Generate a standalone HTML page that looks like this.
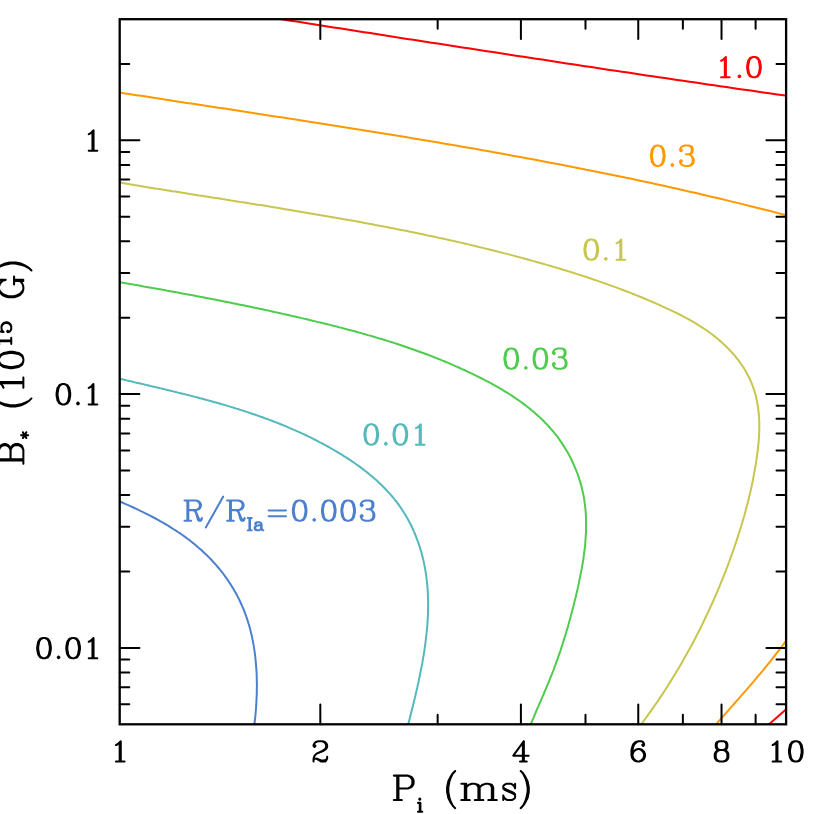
<!DOCTYPE html>
<html><head><meta charset="utf-8"><title>plot</title>
<style>
html,body{margin:0;padding:0;background:#fff;}
body{width:830px;height:814px;overflow:hidden;}
svg{display:block;}
</style></head><body>
<svg width="830" height="814" viewBox="0 0 830 814">
<rect width="830" height="814" fill="#fff"/>
<defs><clipPath id="c"><rect x="119.7" y="19.2" width="666.4" height="705.1"/></clipPath></defs>
<g clip-path="url(#c)" fill="none" stroke-width="2.00" stroke-linejoin="round" stroke-linecap="round">
<path d="M266.0 16.9 L272.1 17.8 L278.3 18.8 L284.4 19.7 L290.5 20.7 L296.7 21.6 L302.8 22.6 L308.9 23.6 L315.1 24.5 L321.2 25.5 L327.3 26.4 L333.5 27.4 L339.6 28.3 L345.7 29.3 L351.9 30.3 L358.0 31.2 L364.1 32.2 L370.3 33.1 L376.4 34.1 L382.5 35.0 L388.7 36.0 L394.8 36.9 L400.9 37.9 L407.1 38.9 L413.2 39.8 L419.3 40.8 L425.5 41.7 L431.6 42.7 L437.7 43.6 L443.9 44.6 L450.0 45.5 L456.2 46.5 L462.3 47.4 L468.4 48.3 L474.6 49.3 L480.7 50.2 L486.8 51.2 L493.0 52.1 L499.1 53.1 L505.2 54.0 L511.4 55.0 L517.5 55.9 L523.6 56.8 L529.8 57.8 L535.9 58.7 L542.1 59.6 L548.2 60.6 L554.3 61.5 L560.5 62.4 L566.6 63.4 L572.7 64.3 L578.9 65.2 L585.0 66.2 L591.2 67.1 L597.3 68.0 L603.4 68.9 L609.6 69.9 L615.7 70.8 L621.9 71.7 L628.0 72.6 L634.1 73.5 L640.3 74.4 L646.4 75.4 L652.6 76.3 L658.7 77.2 L664.8 78.1 L671.0 79.0 L677.1 79.9 L683.3 80.8 L689.4 81.7 L695.5 82.6 L701.7 83.5 L707.8 84.4 L714.0 85.3 L720.1 86.2 L726.3 87.1 L732.4 88.0 L738.5 88.9 L744.7 89.8 L750.8 90.6 L757.0 91.5 L763.1 92.4 L769.3 93.3 L775.4 94.2 L781.6 95.0 L787.7 95.9 L793.9 96.8 L800.0 97.7" stroke="#ff0000"/>
<path d="M763.9 728.8 L764.6 728.2 L765.3 727.5 L766.1 726.9 L766.8 726.3 L767.5 725.6 L768.2 725.0 L768.9 724.4 L769.7 723.7 L770.4 723.1 L771.1 722.5 L771.8 721.8 L772.5 721.2 L773.3 720.6 L774.0 719.9 L774.7 719.3 L775.4 718.7 L776.1 718.0 L776.9 717.4 L777.6 716.8 L778.3 716.1 L779.0 715.5 L779.7 714.9 L780.5 714.2 L781.2 713.6 L781.9 713.0 L782.6 712.3 L783.4 711.7 L784.1 711.1 L784.8 710.4 L785.5 709.8 L786.2 709.2 L787.0 708.5 L787.7 707.9 L788.4 707.3 L789.1 706.6 L789.8 706.0 L790.6 705.4 L791.3 704.7 L792.0 704.1" stroke="#ff0000"/>
<path d="M105.0 90.3 L111.3 91.3 L117.6 92.2 L123.9 93.2 L130.2 94.2 L136.5 95.2 L142.8 96.1 L149.1 97.1 L155.3 98.1 L161.6 99.0 L167.9 100.0 L174.2 101.0 L180.5 101.9 L186.8 102.9 L193.1 103.8 L199.4 104.8 L205.7 105.8 L212.0 106.7 L218.3 107.7 L224.6 108.6 L230.9 109.6 L237.2 110.6 L243.5 111.5 L249.8 112.5 L256.1 113.5 L262.4 114.4 L268.7 115.4 L275.0 116.4 L281.3 117.3 L287.6 118.3 L293.9 119.3 L300.2 120.3 L306.5 121.2 L312.8 122.2 L319.1 123.2 L325.4 124.2 L331.7 125.2 L338.0 126.2 L344.3 127.2 L350.6 128.2 L356.9 129.2 L363.2 130.2 L369.4 131.2 L375.7 132.2 L382.0 133.2 L388.3 134.2 L394.6 135.3 L400.9 136.3 L407.2 137.3 L413.5 138.4 L419.8 139.4 L426.0 140.5 L432.3 141.5 L438.6 142.6 L444.9 143.7 L451.2 144.8 L457.4 145.8 L463.7 146.9 L470.0 148.0 L476.3 149.1 L482.5 150.2 L488.8 151.3 L495.1 152.5 L501.4 153.6 L507.6 154.7 L513.9 155.9 L520.2 157.0 L526.4 158.2 L532.7 159.3 L539.0 160.5 L545.2 161.7 L551.5 162.9 L557.7 164.1 L564.0 165.3 L570.2 166.5 L576.5 167.7 L582.7 168.9 L589.0 170.2 L595.2 171.4 L601.5 172.7 L607.7 174.0 L613.9 175.2 L620.2 176.5 L626.4 177.8 L632.6 179.1 L638.9 180.5 L645.1 181.8 L651.3 183.1 L657.6 184.5 L663.8 185.8 L670.0 187.2 L676.2 188.6 L682.4 190.0 L688.6 191.4 L694.8 192.8 L701.1 194.3 L707.3 195.7 L713.5 197.2 L719.7 198.6 L725.9 200.1 L732.1 201.6 L738.2 203.1 L744.4 204.6 L750.6 206.2 L756.8 207.7 L763.0 209.3 L769.2 210.8 L775.3 212.4 L781.5 214.0 L787.7 215.6 L793.8 217.3 L800.0 218.9" stroke="#ff9900"/>
<path d="M712.0 728.9 L713.8 726.9 L715.5 724.9 L717.3 722.9 L719.0 720.9 L720.8 718.9 L722.6 716.9 L724.3 714.9 L726.1 712.9 L727.9 710.9 L729.6 708.9 L731.4 706.9 L733.2 704.9 L734.9 702.9 L736.7 700.9 L738.5 698.9 L740.2 696.9 L742.0 694.9 L743.7 692.9 L745.5 690.9 L747.2 688.9 L749.0 686.8 L750.7 684.8 L752.4 682.8 L754.2 680.8 L755.9 678.7 L757.6 676.7 L759.3 674.7 L761.1 672.6 L762.8 670.6 L764.5 668.5 L766.1 666.4 L767.8 664.4 L769.5 662.3 L771.2 660.2 L772.8 658.1 L774.5 656.0 L776.1 653.9 L777.8 651.8 L779.4 649.7 L781.0 647.6 L782.6 645.5 L784.2 643.3 L785.8 641.2 L787.3 639.0 L788.9 636.9 L790.5 634.7 L792.0 632.5" stroke="#ff9900"/>
<path d="M105.0 180.2 L107.9 180.7 L110.9 181.2 L113.8 181.7 L116.7 182.2 L119.6 182.6 L122.6 183.1 L125.5 183.6 L128.4 184.1 L131.3 184.6 L134.3 185.1 L137.2 185.5 L140.1 186.0 L143.1 186.5 L146.0 187.0 L148.9 187.4 L151.9 187.9 L154.8 188.4 L157.7 188.8 L160.7 189.3 L163.6 189.8 L166.5 190.2 L169.5 190.7 L172.4 191.2 L175.4 191.6 L178.3 192.1 L181.2 192.6 L184.2 193.0 L187.1 193.5 L190.0 194.0 L193.0 194.4 L195.9 194.9 L198.9 195.4 L201.8 195.8 L204.7 196.3 L207.7 196.7 L210.6 197.2 L213.6 197.7 L216.5 198.1 L219.4 198.6 L222.4 199.1 L225.3 199.5 L228.3 200.0 L231.2 200.5 L234.1 200.9 L237.1 201.4 L240.0 201.9 L243.0 202.3 L245.9 202.8 L248.9 203.3 L251.8 203.7 L254.7 204.2 L257.7 204.7 L260.6 205.1 L263.6 205.6 L266.5 206.1 L269.4 206.6 L272.4 207.0 L275.3 207.5 L278.3 208.0 L281.2 208.5 L284.1 209.0 L287.1 209.4 L290.0 209.9 L293.0 210.4 L295.9 210.9 L298.8 211.4 L301.8 211.9 L304.7 212.4 L307.7 212.9 L310.6 213.4 L313.5 213.9 L316.5 214.4 L319.4 214.9 L322.3 215.4 L325.3 215.9 L328.2 216.4 L331.1 216.9 L334.1 217.4 L337.0 217.9 L339.9 218.4 L342.9 219.0 L345.8 219.5 L348.7 220.0 L351.7 220.5 L354.6 221.1 L357.5 221.6 L360.5 222.1 L363.4 222.7 L366.3 223.2 L369.2 223.8 L372.2 224.3 L375.1 224.9 L378.0 225.4 L380.9 226.0 L383.9 226.5 L386.8 227.1 L389.7 227.7 L392.6 228.2 L395.6 228.8 L398.5 229.4 L401.4 230.0 L404.3 230.6 L407.2 231.1 L410.1 231.7 L413.1 232.3 L416.0 232.9 L418.9 233.5 L421.8 234.1 L424.7 234.7 L427.6 235.4 L430.5 236.0 L433.4 236.6 L436.3 237.2 L439.3 237.9 L442.2 238.5 L445.1 239.1 L448.0 239.8 L450.9 240.4 L453.8 241.1 L456.7 241.7 L459.6 242.4 L462.5 243.1 L465.4 243.7 L468.3 244.4 L471.1 245.1 L474.0 245.8 L476.9 246.5 L479.8 247.2 L482.7 247.9 L485.6 248.6 L488.5 249.3 L491.4 250.0 L494.3 250.7 L497.1 251.4 L500.0 252.2 L502.9 252.9 L505.8 253.6 L508.6 254.4 L511.5 255.1 L514.4 255.9 L517.3 256.7 L520.1 257.4 L523.0 258.2 L525.9 259.0 L528.7 259.8 L531.6 260.6 L534.5 261.4 L537.3 262.2 L540.2 263.0 L543.0 263.8 L545.9 264.6 L548.8 265.4 L551.6 266.3 L554.5 267.1 L557.3 268.0 L560.1 268.8 L563.0 269.7 L565.8 270.5 L568.7 271.4 L571.5 272.3 L574.4 273.2 L577.2 274.1 L580.0 275.0 L582.8 275.9 L585.7 276.8 L588.5 277.8 L591.3 278.7 L594.1 279.7 L596.9 280.6 L599.8 281.6 L602.6 282.6 L605.4 283.6 L608.2 284.6 L611.0 285.6 L613.8 286.6 L616.6 287.6 L619.3 288.6 L622.1 289.7 L624.9 290.8 L627.7 291.8 L630.5 292.9 L633.2 294.0 L636.0 295.1 L638.8 296.2 L641.5 297.3 L644.3 298.5 L647.0 299.6 L649.8 300.8 L652.5 302.0 L655.2 303.2 L658.0 304.4 L660.7 305.6 L663.4 306.8 L666.1 308.1 L668.8 309.3 L671.5 310.6 L674.2 311.9 L676.9 313.2 L679.6 314.5 L682.2 315.9 L684.9 317.3 L687.5 318.7 L690.1 320.1 L692.7 321.6 L695.3 323.1 L697.8 324.7 L700.3 326.3 L702.8 327.9 L705.3 329.5 L707.8 331.2 L710.2 333.0 L712.6 334.8 L714.9 336.6 L717.3 338.5 L719.6 340.4 L721.8 342.4 L724.0 344.5 L726.2 346.5 L728.3 348.6 L730.4 350.8 L732.4 353.0 L734.3 355.2 L736.2 357.5 L738.1 359.9 L739.8 362.2 L741.5 364.7 L743.2 367.1 L744.7 369.6 L746.2 372.2 L747.6 374.7 L749.0 377.3 L750.2 380.0 L751.4 382.7 L752.5 385.4 L753.5 388.2 L754.4 391.0 L755.2 393.8 L756.0 396.6 L756.6 399.5 L757.2 402.4 L757.7 405.3 L758.2 408.2 L758.5 411.1 L758.8 414.0 L759.0 417.0 L759.2 419.9 L759.3 422.9 L759.3 425.9 L759.3 428.9 L759.2 431.9 L759.1 434.9 L758.9 437.9 L758.7 440.9 L758.4 443.9 L758.1 446.9 L757.8 449.9 L757.4 452.9 L757.0 455.9 L756.6 458.8 L756.1 461.8 L755.7 464.8 L755.2 467.8 L754.6 470.7 L754.1 473.7 L753.6 476.6 L753.0 479.5 L752.4 482.5 L751.8 485.4 L751.1 488.3 L750.5 491.2 L749.8 494.1 L749.1 497.0 L748.4 499.9 L747.7 502.7 L747.0 505.6 L746.2 508.5 L745.4 511.3 L744.7 514.2 L743.9 517.0 L743.0 519.9 L742.2 522.7 L741.4 525.5 L740.5 528.4 L739.6 531.2 L738.7 534.0 L737.8 536.8 L736.9 539.6 L736.0 542.4 L735.0 545.2 L734.1 548.0 L733.1 550.8 L732.1 553.6 L731.1 556.4 L730.1 559.2 L729.1 562.0 L728.0 564.8 L727.0 567.6 L725.9 570.3 L724.8 573.1 L723.8 575.9 L722.7 578.6 L721.5 581.4 L720.4 584.1 L719.3 586.9 L718.1 589.6 L717.0 592.4 L715.8 595.1 L714.6 597.8 L713.4 600.6 L712.2 603.3 L710.9 606.0 L709.7 608.7 L708.5 611.4 L707.2 614.1 L705.9 616.8 L704.6 619.5 L703.3 622.2 L702.0 624.9 L700.7 627.5 L699.4 630.2 L698.0 632.9 L696.6 635.5 L695.3 638.2 L693.9 640.8 L692.5 643.5 L691.1 646.1 L689.7 648.7 L688.2 651.3 L686.8 653.9 L685.3 656.5 L683.8 659.1 L682.4 661.7 L680.9 664.3 L679.4 666.9 L677.9 669.4 L676.3 672.0 L674.8 674.5 L673.2 677.1 L671.7 679.6 L670.1 682.1 L668.5 684.7 L666.9 687.2 L665.3 689.7 L663.7 692.2 L662.1 694.7 L660.4 697.1 L658.8 699.6 L657.1 702.1 L655.4 704.5 L653.7 707.0 L652.0 709.4 L650.3 711.8 L648.6 714.2 L646.9 716.6 L645.1 719.0 L643.4 721.4 L641.6 723.8 L639.8 726.1 L638.0 728.5" stroke="#c7c64e"/>
<path d="M105.0 279.6 L108.0 280.1 L110.9 280.6 L113.9 281.1 L116.8 281.7 L119.8 282.2 L122.8 282.7 L125.7 283.2 L128.7 283.7 L131.7 284.3 L134.6 284.8 L137.6 285.3 L140.6 285.8 L143.6 286.4 L146.5 286.9 L149.5 287.4 L152.5 288.0 L155.4 288.5 L158.4 289.0 L161.4 289.6 L164.4 290.1 L167.3 290.7 L170.3 291.2 L173.3 291.7 L176.2 292.3 L179.2 292.8 L182.2 293.4 L185.2 294.0 L188.1 294.5 L191.1 295.1 L194.1 295.6 L197.1 296.2 L200.0 296.8 L203.0 297.3 L206.0 297.9 L209.0 298.5 L211.9 299.1 L214.9 299.6 L217.9 300.2 L220.9 300.8 L223.8 301.4 L226.8 302.0 L229.8 302.6 L232.7 303.2 L235.7 303.8 L238.7 304.4 L241.6 305.0 L244.6 305.6 L247.6 306.2 L250.5 306.8 L253.5 307.5 L256.5 308.1 L259.4 308.7 L262.4 309.3 L265.3 310.0 L268.3 310.6 L271.3 311.3 L274.2 311.9 L277.2 312.6 L280.1 313.2 L283.1 313.9 L286.0 314.5 L289.0 315.2 L291.9 315.9 L294.9 316.5 L297.8 317.2 L300.8 317.9 L303.7 318.6 L306.7 319.3 L309.6 320.0 L312.5 320.7 L315.5 321.4 L318.4 322.1 L321.3 322.8 L324.3 323.5 L327.2 324.2 L330.1 324.9 L333.1 325.7 L336.0 326.4 L338.9 327.2 L341.8 327.9 L344.7 328.7 L347.6 329.5 L350.6 330.2 L353.5 331.0 L356.4 331.8 L359.3 332.6 L362.2 333.4 L365.1 334.2 L368.0 335.1 L370.9 335.9 L373.7 336.7 L376.6 337.6 L379.5 338.5 L382.4 339.3 L385.3 340.2 L388.1 341.1 L391.0 342.0 L393.9 342.9 L396.7 343.8 L399.6 344.8 L402.5 345.7 L405.3 346.7 L408.2 347.7 L411.0 348.7 L413.8 349.7 L416.7 350.7 L419.5 351.7 L422.3 352.7 L425.2 353.8 L428.0 354.8 L430.8 355.9 L433.6 357.0 L436.4 358.1 L439.2 359.2 L442.0 360.4 L444.8 361.5 L447.6 362.7 L450.4 363.9 L453.2 365.1 L456.0 366.3 L458.7 367.5 L461.5 368.8 L464.3 370.0 L467.0 371.3 L469.8 372.6 L472.5 373.9 L475.3 375.3 L478.0 376.6 L480.7 378.0 L483.5 379.4 L486.2 380.8 L488.9 382.2 L491.6 383.7 L494.2 385.2 L496.9 386.7 L499.6 388.2 L502.2 389.7 L504.8 391.3 L507.4 392.9 L510.0 394.5 L512.5 396.2 L515.1 397.9 L517.6 399.6 L520.0 401.3 L522.5 403.1 L524.9 404.9 L527.3 406.7 L529.7 408.6 L532.0 410.5 L534.3 412.4 L536.5 414.4 L538.8 416.4 L541.0 418.5 L543.1 420.5 L545.2 422.7 L547.3 424.8 L549.3 427.0 L551.3 429.3 L553.2 431.5 L555.1 433.9 L557.0 436.2 L558.8 438.6 L560.5 441.1 L562.2 443.6 L563.8 446.1 L565.4 448.7 L567.0 451.3 L568.5 453.9 L569.9 456.6 L571.3 459.3 L572.6 462.0 L573.8 464.8 L575.0 467.6 L576.2 470.4 L577.3 473.2 L578.3 476.0 L579.2 478.9 L580.1 481.8 L581.0 484.7 L581.7 487.6 L582.4 490.5 L583.1 493.5 L583.7 496.4 L584.2 499.3 L584.6 502.3 L585.0 505.3 L585.3 508.2 L585.6 511.2 L585.8 514.2 L586.0 517.2 L586.1 520.2 L586.1 523.2 L586.1 526.2 L586.1 529.2 L586.0 532.2 L585.8 535.2 L585.6 538.3 L585.4 541.3 L585.2 544.3 L584.9 547.3 L584.5 550.3 L584.1 553.4 L583.7 556.4 L583.3 559.4 L582.8 562.4 L582.3 565.4 L581.8 568.4 L581.2 571.4 L580.6 574.4 L580.0 577.4 L579.4 580.4 L578.8 583.4 L578.1 586.4 L577.5 589.4 L576.8 592.3 L576.1 595.3 L575.4 598.3 L574.6 601.2 L573.9 604.2 L573.2 607.1 L572.4 610.0 L571.6 612.9 L570.9 615.8 L570.1 618.7 L569.3 621.6 L568.5 624.5 L567.7 627.4 L566.8 630.3 L566.0 633.1 L565.1 636.0 L564.2 638.9 L563.3 641.7 L562.4 644.6 L561.5 647.4 L560.6 650.3 L559.6 653.1 L558.6 655.9 L557.6 658.8 L556.6 661.6 L555.6 664.4 L554.5 667.2 L553.5 670.0 L552.4 672.8 L551.3 675.7 L550.1 678.5 L549.0 681.3 L547.8 684.1 L546.7 686.9 L545.5 689.7 L544.3 692.5 L543.1 695.3 L541.9 698.1 L540.7 700.8 L539.5 703.6 L538.3 706.4 L537.1 709.2 L535.9 712.0 L534.7 714.8 L533.6 717.6 L532.4 720.3 L531.2 723.1 L530.0 725.9 L528.9 728.7" stroke="#4dcc4d"/>
<path d="M105.0 375.2 L107.4 375.8 L109.8 376.4 L112.3 376.9 L114.7 377.5 L117.1 378.1 L119.5 378.7 L121.9 379.2 L124.4 379.8 L126.8 380.4 L129.2 380.9 L131.7 381.5 L134.1 382.1 L136.5 382.7 L139.0 383.2 L141.4 383.8 L143.9 384.4 L146.3 385.0 L148.7 385.5 L151.2 386.1 L153.6 386.7 L156.1 387.3 L158.5 387.8 L160.9 388.4 L163.4 389.0 L165.8 389.6 L168.3 390.2 L170.7 390.8 L173.2 391.4 L175.6 392.0 L178.1 392.6 L180.5 393.2 L182.9 393.8 L185.4 394.4 L187.8 395.0 L190.3 395.6 L192.7 396.3 L195.1 396.9 L197.6 397.5 L200.0 398.2 L202.4 398.8 L204.9 399.5 L207.3 400.1 L209.7 400.8 L212.2 401.5 L214.6 402.2 L217.0 402.8 L219.4 403.5 L221.9 404.2 L224.3 404.9 L226.7 405.6 L229.1 406.4 L231.5 407.1 L233.9 407.8 L236.3 408.6 L238.7 409.3 L241.1 410.1 L243.5 410.8 L245.9 411.6 L248.3 412.4 L250.7 413.2 L253.0 414.0 L255.4 414.8 L257.8 415.6 L260.1 416.5 L262.5 417.3 L264.9 418.2 L267.2 419.0 L269.6 419.9 L271.9 420.8 L274.3 421.7 L276.6 422.6 L278.9 423.5 L281.3 424.5 L283.6 425.4 L285.9 426.3 L288.2 427.3 L290.5 428.3 L292.8 429.3 L295.1 430.3 L297.4 431.3 L299.7 432.3 L301.9 433.4 L304.2 434.4 L306.5 435.5 L308.7 436.6 L311.0 437.7 L313.2 438.8 L315.5 440.0 L317.7 441.1 L319.9 442.3 L322.2 443.4 L324.4 444.6 L326.6 445.8 L328.8 447.0 L331.0 448.3 L333.1 449.5 L335.3 450.8 L337.5 452.1 L339.6 453.4 L341.8 454.7 L343.9 456.1 L346.1 457.4 L348.2 458.8 L350.3 460.2 L352.4 461.6 L354.5 463.0 L356.5 464.5 L358.6 465.9 L360.6 467.4 L362.6 468.9 L364.6 470.5 L366.6 472.0 L368.6 473.6 L370.5 475.2 L372.4 476.8 L374.3 478.4 L376.2 480.1 L378.0 481.8 L379.9 483.5 L381.7 485.2 L383.4 487.0 L385.2 488.8 L386.9 490.6 L388.6 492.4 L390.2 494.2 L391.9 496.1 L393.5 498.0 L395.0 500.0 L396.6 501.9 L398.1 503.9 L399.5 505.9 L400.9 508.0 L402.3 510.1 L403.7 512.2 L405.0 514.3 L406.3 516.4 L407.5 518.6 L408.7 520.8 L409.9 523.0 L411.0 525.3 L412.1 527.5 L413.2 529.8 L414.2 532.1 L415.2 534.5 L416.1 536.8 L417.0 539.1 L417.9 541.5 L418.7 543.9 L419.5 546.2 L420.3 548.6 L421.0 551.0 L421.7 553.5 L422.3 555.9 L422.9 558.3 L423.5 560.7 L424.0 563.2 L424.5 565.6 L425.0 568.0 L425.4 570.5 L425.8 573.0 L426.2 575.4 L426.5 577.9 L426.8 580.4 L427.0 582.8 L427.3 585.3 L427.5 587.8 L427.7 590.3 L427.8 592.8 L427.9 595.3 L428.0 597.8 L428.1 600.3 L428.1 602.8 L428.1 605.3 L428.1 607.8 L428.0 610.3 L428.0 612.8 L427.9 615.3 L427.8 617.8 L427.6 620.4 L427.5 622.9 L427.3 625.4 L427.1 627.9 L426.8 630.4 L426.6 632.9 L426.3 635.5 L426.0 638.0 L425.7 640.5 L425.4 643.0 L425.1 645.5 L424.7 648.0 L424.4 650.6 L424.0 653.1 L423.6 655.6 L423.1 658.1 L422.7 660.6 L422.3 663.1 L421.8 665.6 L421.3 668.1 L420.8 670.6 L420.3 673.1 L419.8 675.5 L419.3 678.0 L418.8 680.5 L418.3 683.0 L417.7 685.4 L417.2 687.9 L416.6 690.4 L416.0 692.8 L415.5 695.3 L414.9 697.7 L414.3 700.1 L413.7 702.6 L413.1 705.0 L412.5 707.4 L411.9 709.8 L411.3 712.2 L410.7 714.6 L410.1 717.0 L409.5 719.4 L408.9 721.8 L408.3 724.1 L407.7 726.5 L407.1 728.9" stroke="#55b8bb"/>
<path d="M108.0 496.5 L110.0 497.4 L112.0 498.2 L114.0 499.0 L116.1 499.9 L118.1 500.7 L120.1 501.6 L122.1 502.5 L124.2 503.4 L126.2 504.3 L128.2 505.2 L130.3 506.1 L132.3 507.0 L134.3 508.0 L136.4 508.9 L138.4 509.9 L140.4 510.8 L142.5 511.8 L144.5 512.8 L146.5 513.8 L148.5 514.9 L150.6 515.9 L152.6 517.0 L154.6 518.0 L156.6 519.1 L158.5 520.2 L160.5 521.3 L162.5 522.4 L164.5 523.6 L166.4 524.7 L168.4 525.9 L170.3 527.1 L172.2 528.3 L174.1 529.5 L176.0 530.7 L177.9 532.0 L179.8 533.2 L181.7 534.5 L183.5 535.8 L185.3 537.1 L187.2 538.5 L189.0 539.8 L190.8 541.2 L192.5 542.6 L194.3 544.0 L196.0 545.4 L197.7 546.9 L199.4 548.4 L201.1 549.8 L202.8 551.4 L204.4 552.9 L206.0 554.4 L207.6 556.0 L209.2 557.6 L210.8 559.2 L212.3 560.8 L213.8 562.5 L215.3 564.1 L216.8 565.8 L218.2 567.5 L219.6 569.2 L221.0 571.0 L222.4 572.7 L223.8 574.5 L225.1 576.3 L226.4 578.1 L227.7 579.9 L228.9 581.8 L230.1 583.6 L231.3 585.5 L232.5 587.4 L233.6 589.3 L234.7 591.2 L235.8 593.1 L236.9 595.1 L237.9 597.1 L238.9 599.0 L239.9 601.0 L240.8 603.0 L241.7 605.1 L242.6 607.1 L243.5 609.1 L244.3 611.2 L245.1 613.3 L245.9 615.4 L246.6 617.5 L247.3 619.6 L248.0 621.7 L248.6 623.8 L249.3 626.0 L249.9 628.1 L250.4 630.3 L251.0 632.4 L251.5 634.6 L252.0 636.8 L252.4 639.0 L252.9 641.2 L253.3 643.4 L253.7 645.6 L254.0 647.9 L254.4 650.1 L254.7 652.3 L255.0 654.6 L255.3 656.8 L255.5 659.1 L255.7 661.3 L255.9 663.6 L256.1 665.8 L256.3 668.1 L256.4 670.3 L256.6 672.6 L256.7 674.9 L256.7 677.1 L256.8 679.4 L256.8 681.7 L256.9 683.9 L256.9 686.2 L256.8 688.5 L256.8 690.7 L256.8 693.0 L256.7 695.2 L256.6 697.5 L256.5 699.7 L256.4 702.0 L256.3 704.2 L256.1 706.5 L256.0 708.7 L255.8 710.9 L255.6 713.1 L255.4 715.4 L255.2 717.6 L254.9 719.8 L254.7 722.0 L254.4 724.1 L254.2 726.3 L253.9 728.5" stroke="#4d80cc"/>
</g>
<path d="M320.31 724.30 v-19.70 M320.31 19.20 v19.70 M437.65 724.30 v-9.60 M437.65 19.20 v9.60 M520.91 724.30 v-19.70 M520.91 19.20 v19.70 M585.49 724.30 v-9.60 M585.49 19.20 v9.60 M638.26 724.30 v-19.70 M638.26 19.20 v19.70 M682.87 724.30 v-9.60 M682.87 19.20 v9.60 M721.52 724.30 v-19.70 M721.52 19.20 v19.70 M755.61 724.30 v-9.60 M755.61 19.20 v9.60 M119.70 704.20 h9.60 M786.10 704.20 h-9.60 M119.70 687.21 h9.60 M786.10 687.21 h-9.60 M119.70 672.49 h9.60 M786.10 672.49 h-9.60 M119.70 659.51 h9.60 M786.10 659.51 h-9.60 M119.70 647.90 h19.70 M786.10 647.90 h-19.70 M119.70 571.50 h9.60 M786.10 571.50 h-9.60 M119.70 526.80 h9.60 M786.10 526.80 h-9.60 M119.70 495.09 h9.60 M786.10 495.09 h-9.60 M119.70 470.50 h9.60 M786.10 470.50 h-9.60 M119.70 450.40 h9.60 M786.10 450.40 h-9.60 M119.70 433.41 h9.60 M786.10 433.41 h-9.60 M119.70 418.69 h9.60 M786.10 418.69 h-9.60 M119.70 405.71 h9.60 M786.10 405.71 h-9.60 M119.70 394.10 h19.70 M786.10 394.10 h-19.70 M119.70 317.69 h9.60 M786.10 317.69 h-9.60 M119.70 273.00 h9.60 M786.10 273.00 h-9.60 M119.70 241.29 h9.60 M786.10 241.29 h-9.60 M119.70 216.70 h9.60 M786.10 216.70 h-9.60 M119.70 196.60 h9.60 M786.10 196.60 h-9.60 M119.70 179.61 h9.60 M786.10 179.61 h-9.60 M119.70 164.89 h9.60 M786.10 164.89 h-9.60 M119.70 151.91 h9.60 M786.10 151.91 h-9.60 M119.70 140.29 h19.70 M786.10 140.29 h-19.70 M119.70 63.89 h9.60 M786.10 63.89 h-9.60" stroke="#000" stroke-width="2.00" fill="none" stroke-linecap="round"/>
<rect x="119.70" y="19.20" width="666.40" height="705.10" fill="none" stroke="#000" stroke-width="2.30"/>
<path transform="translate(109.98 761.50)" fill="#000" fill-rule="evenodd" d="M10.81 -21.31 10.06 -21.06 7.19 -18.19 5.56 -17.44 4.94 -16.69 5.06 -15.94 5.44 -15.56 5.81 -15.44 6.56 -15.56 8.06 -16.31 8.44 -16.69 8.69 -16.56 8.69 -1.06 8.56 -0.94 5.81 -0.94 5.44 -0.81 4.94 -0.19 4.94 0.31 5.44 0.94 5.81 1.06 14.69 1.06 15.06 0.94 15.56 0.31 15.56 -0.19 15.06 -0.81 14.69 -0.94 11.94 -0.94 11.81 -1.06 11.81 -20.31 11.56 -20.81 11.19 -21.19Z"/>
<path transform="translate(310.59 761.50)" fill="#000" fill-rule="evenodd" d="M4.81 -20.44 4.19 -20.06 3.19 -19.06 2.06 -16.94 2.06 -16.56 1.94 -16.44 1.94 -15.44 2.06 -15.06 3.19 -13.81 3.69 -13.56 4.31 -13.56 5.69 -14.69 5.81 -15.81 5.69 -16.19 4.56 -17.31 4.81 -17.81 5.69 -18.56 8.06 -19.31 11.44 -19.31 12.94 -18.56 13.81 -17.69 14.56 -16.19 14.56 -14.69 13.94 -13.44 13.56 -13.06 10.94 -11.31 5.56 -8.69 3.19 -6.44 2.94 -6.06 1.94 -2.94 1.94 0.06 2.06 0.44 2.56 0.94 2.94 1.06 3.44 0.94 3.81 0.56 3.94 0.19 3.94 -1.31 4.31 -1.81 5.69 -1.81 10.19 0.94 10.56 0.94 10.69 1.06 14.69 1.06 15.06 0.94 16.31 -0.19 17.19 -1.94 17.44 -2.19 17.44 -2.56 17.56 -2.69 17.56 -4.81 17.44 -5.19 16.94 -5.69 16.19 -5.69 15.69 -5.19 15.56 -4.94 15.56 -3.31 14.94 -2.69 13.44 -1.94 10.81 -1.94 6.69 -3.69 5.81 -3.94 5.69 -3.81 4.56 -3.81 4.44 -4.06 4.81 -5.19 6.56 -6.94 8.94 -8.06 9.19 -8.06 9.56 -8.31 12.94 -9.56 16.19 -11.69 16.56 -12.19 17.44 -13.94 17.44 -14.31 17.56 -14.44 17.56 -16.44 17.44 -16.56 17.44 -17.06 16.56 -18.81 16.44 -18.81 15.31 -20.06 14.69 -20.44 12.06 -21.31 7.81 -21.31 7.69 -21.19 7.44 -21.31Z"/>
<path transform="translate(511.19 761.50)" fill="#000" fill-rule="evenodd" d="M12.81 -21.31 12.19 -21.19 11.81 -20.94 8.44 -16.19 7.31 -14.81 7.06 -14.31 5.94 -12.94 5.69 -12.44 4.56 -11.06 4.31 -10.56 3.19 -9.19 2.94 -8.69 1.81 -7.31 1.06 -6.06 1.06 -5.44 1.19 -5.19 2.06 -4.69 10.56 -4.69 10.69 -4.56 10.69 -1.06 10.56 -0.94 8.69 -0.94 8.31 -0.81 7.94 -0.44 7.81 -0.06 7.94 0.56 8.31 0.94 8.69 1.06 15.69 1.06 16.06 0.94 16.44 0.56 16.56 0.19 16.44 -0.44 16.06 -0.81 15.69 -0.94 13.81 -0.94 13.69 -1.06 13.69 -4.56 13.81 -4.69 17.56 -4.69 18.44 -5.31 18.44 -6.19 17.56 -6.81 13.81 -6.81 13.69 -6.94 13.69 -20.44 13.56 -20.81ZM10.56 -15.69 10.69 -15.56 10.69 -6.94 10.56 -6.81 4.31 -6.81 4.19 -7.06Z"/>
<path transform="translate(628.54 761.50)" fill="#000" fill-rule="evenodd" d="M9.31 -21.31 8.94 -21.06 6.81 -20.44 6.31 -20.06 6.06 -20.06 6.06 -19.94 4.19 -18.19 3.06 -16.06 2.44 -13.44 2.31 -13.31 2.31 -12.94 2.19 -12.81 2.19 -12.44 1.94 -11.94 2.06 -11.69 1.94 -11.56 1.94 -5.69 2.94 -2.56 5.19 -0.19 5.81 0.19 7.94 0.81 8.31 1.06 11.19 1.06 11.56 0.81 13.69 0.19 14.19 -0.19 14.44 -0.19 16.31 -2.06 16.31 -2.31 16.69 -2.81 17.56 -5.44 17.44 -5.56 17.56 -5.69 17.56 -6.81 17.44 -6.94 17.56 -7.06 16.69 -9.69 16.31 -10.31 14.44 -12.31 14.19 -12.31 13.69 -12.69 11.06 -13.56 10.94 -13.44 10.81 -13.56 9.69 -13.56 9.56 -13.44 9.44 -13.56 6.81 -12.69 6.31 -12.31 6.06 -12.31 5.19 -11.31 4.94 -11.44 5.06 -11.56 5.06 -12.06 5.19 -12.19 5.69 -14.56 6.56 -16.56 8.56 -18.56 10.06 -19.31 12.44 -19.31 13.69 -18.69 14.06 -18.19 12.94 -17.19 12.69 -16.69 12.69 -16.19 12.94 -15.69 14.19 -14.56 15.06 -14.56 15.44 -14.81 16.44 -15.94 16.56 -16.31 16.56 -17.56 16.44 -17.69 16.44 -18.06 15.56 -19.81 14.81 -20.44 13.31 -21.19 12.81 -21.19 12.69 -21.31 9.69 -21.31 9.56 -21.19ZM10.44 -11.56 11.94 -10.81 13.81 -8.94 14.56 -6.69 14.56 -5.81 13.81 -3.56 11.94 -1.69 10.44 -0.94 9.06 -0.94 7.56 -1.69 5.81 -3.44 4.94 -5.94 4.94 -6.56 5.81 -9.06 7.44 -10.69 9.56 -11.44Z"/>
<path transform="translate(711.80 761.50)" fill="#000" fill-rule="evenodd" d="M7.44 -21.31 4.56 -20.31 3.94 -19.69 3.06 -17.94 3.06 -17.56 2.94 -17.44 2.94 -14.44 3.06 -14.31 3.06 -13.94 3.94 -12.19 4.56 -11.56 3.19 -10.31 2.06 -8.19 2.06 -7.81 1.94 -7.69 1.94 -3.81 2.06 -3.69 2.06 -3.31 3.19 -1.19 4.19 -0.19 4.81 0.19 7.44 1.06 12.19 1.06 12.56 0.81 14.69 0.19 15.31 -0.19 16.31 -1.31 16.56 -1.44 17.44 -3.19 17.44 -3.69 17.56 -3.81 17.56 -7.81 17.44 -7.94 17.44 -8.31 16.56 -10.06 14.94 -11.56 15.56 -12.06 16.44 -13.81 16.44 -14.19 16.56 -14.31 16.56 -17.56 16.44 -17.69 16.44 -18.06 15.56 -19.81 14.69 -20.44 12.06 -21.31ZM8.06 -10.56 11.44 -10.56 12.94 -9.81 13.94 -8.81 14.56 -7.44 14.56 -4.06 13.81 -2.56 12.94 -1.69 11.44 -0.94 8.06 -0.94 6.56 -1.69 5.69 -2.56 4.94 -4.06 4.94 -7.44 5.69 -8.94 6.56 -9.81ZM6.56 -18.44 6.81 -18.69 8.06 -19.31 11.44 -19.31 12.69 -18.69 13.06 -18.31 13.56 -17.31 13.56 -14.56 13.06 -13.56 12.69 -13.19 11.31 -12.56 8.19 -12.56 6.81 -13.19 6.56 -13.44 5.94 -14.69 5.94 -17.19Z"/>
<path transform="translate(766.66 761.50)" fill="#000" fill-rule="evenodd" d="M27.81 -21.31 25.19 -20.44 24.44 -19.94 22.56 -17.19 22.19 -16.19 22.19 -15.69 22.06 -15.56 22.06 -15.06 21.94 -14.94 21.94 -14.44 21.81 -14.31 21.81 -13.81 21.69 -13.69 21.69 -13.19 21.44 -12.44 21.44 -11.69 21.31 -11.56 21.31 -8.69 21.44 -8.56 21.44 -7.81 21.56 -7.69 21.56 -7.19 21.69 -7.06 21.69 -6.56 21.81 -6.44 21.81 -5.94 21.94 -5.81 21.94 -5.31 22.06 -5.19 22.06 -4.69 22.19 -4.56 22.19 -4.06 22.44 -3.31 24.31 -0.44 25.19 0.19 27.81 1.06 30.56 1.06 33.19 0.19 34.19 -0.69 35.81 -3.19 36.19 -4.31 36.19 -4.81 36.31 -4.94 36.31 -5.44 36.44 -5.56 36.44 -6.06 36.56 -6.19 36.56 -6.69 36.69 -6.81 36.69 -7.31 36.94 -8.06 36.94 -12.19 36.81 -12.31 36.81 -12.81 36.69 -12.94 36.69 -13.44 36.56 -13.56 36.06 -16.44 35.69 -17.31 34.19 -19.56 33.69 -20.06 33.06 -20.44 30.94 -21.06 30.56 -21.31ZM28.44 -19.31 29.81 -19.31 31.19 -18.69 32.06 -17.94 33.06 -16.06 33.56 -13.19 33.69 -13.06 33.69 -12.56 33.81 -12.44 33.81 -11.94 33.94 -11.81 33.94 -8.44 33.81 -8.31 33.81 -7.81 33.69 -7.69 33.69 -7.19 33.56 -7.06 33.06 -4.19 32.19 -2.44 31.19 -1.56 29.81 -0.94 28.44 -0.94 26.94 -1.69 26.06 -2.56 25.19 -4.44 25.19 -4.94 25.06 -5.06 25.06 -5.56 24.94 -5.69 24.94 -6.19 24.81 -6.31 24.81 -6.81 24.69 -6.94 24.69 -7.44 24.44 -8.19 24.44 -8.81 24.31 -8.94 24.31 -11.31 24.44 -11.44 24.44 -12.06 24.56 -12.19 24.56 -12.69 24.69 -12.81 24.69 -13.31 24.81 -13.44 24.81 -13.94 24.94 -14.06 25.31 -16.19 26.06 -17.69 26.94 -18.56ZM10.81 -21.31 10.06 -21.06 7.19 -18.19 5.56 -17.44 4.94 -16.69 5.06 -15.94 5.44 -15.56 5.81 -15.44 6.56 -15.56 8.06 -16.31 8.44 -16.69 8.69 -16.56 8.69 -1.06 8.56 -0.94 5.81 -0.94 5.44 -0.81 4.94 -0.19 4.94 0.31 5.44 0.94 5.81 1.06 14.69 1.06 15.06 0.94 15.56 0.31 15.56 -0.19 15.06 -0.81 14.69 -0.94 11.94 -0.94 11.81 -1.06 11.81 -20.31 11.56 -20.81 11.19 -21.19Z"/>
<path transform="translate(82.76 150.59)" fill="#000" fill-rule="evenodd" d="M10.81 -21.31 10.06 -21.06 7.19 -18.19 5.56 -17.44 4.94 -16.69 5.06 -15.94 5.44 -15.56 5.81 -15.44 6.56 -15.56 8.06 -16.31 8.44 -16.69 8.69 -16.56 8.69 -1.06 8.56 -0.94 5.81 -0.94 5.44 -0.81 4.94 -0.19 4.94 0.31 5.44 0.94 5.81 1.06 14.69 1.06 15.06 0.94 15.56 0.31 15.56 -0.19 15.06 -0.81 14.69 -0.94 11.94 -0.94 11.81 -1.06 11.81 -20.31 11.56 -20.81 11.19 -21.19Z"/>
<path transform="translate(53.64 404.40)" fill="#000" fill-rule="evenodd" d="M24.69 -2.81 23.94 -2.81 23.56 -2.56 22.44 -1.31 22.56 -0.19 23.56 0.81 24.31 1.06 25.06 0.81 26.06 -0.19 26.19 -0.56 26.19 -1.31 26.06 -1.56ZM39.81 -21.31 39.06 -21.06 36.44 -18.31 34.69 -17.44 34.06 -16.81 34.06 -16.06 34.56 -15.56 34.94 -15.44 35.56 -15.56 37.31 -16.44 37.56 -16.69 37.81 -16.56 37.81 -1.06 37.69 -0.94 34.94 -0.94 34.56 -0.81 34.06 -0.31 34.06 0.44 34.56 0.94 34.94 1.06 43.81 1.06 44.19 0.94 44.56 0.56 44.69 0.19 44.56 -0.44 44.19 -0.81 43.81 -0.94 41.06 -0.94 40.81 -1.19 40.81 -20.44 40.44 -21.06ZM8.44 -21.31 5.81 -20.44 5.06 -19.94 3.44 -17.44 3.06 -17.06 2.81 -16.31 2.06 -12.06 1.94 -11.94 1.94 -8.31 2.06 -8.19 2.06 -7.69 2.19 -7.56 2.19 -7.06 2.31 -6.94 2.31 -6.44 2.44 -6.31 2.44 -5.81 2.56 -5.69 2.56 -5.19 2.69 -5.06 2.69 -4.56 2.81 -4.44 2.81 -3.94 3.06 -3.19 3.44 -2.81 4.94 -0.44 5.81 0.19 7.94 0.81 8.31 1.06 11.19 1.06 11.56 0.81 13.69 0.19 14.44 -0.31 16.44 -3.19 16.44 -3.44 16.69 -3.81 16.69 -4.31 16.81 -4.44 16.81 -4.94 16.94 -5.06 16.94 -5.56 17.06 -5.69 17.06 -6.19 17.19 -6.31 17.19 -6.81 17.31 -6.94 17.31 -7.44 17.56 -8.19 17.56 -12.06 17.44 -12.19 16.69 -16.44 16.44 -16.81 16.44 -17.06 14.69 -19.69 13.69 -20.44 11.56 -21.06 11.19 -21.31 10.94 -21.19 10.81 -21.31ZM9.06 -19.31 10.44 -19.31 11.94 -18.56 12.94 -17.56 13.69 -15.94 14.19 -13.06 14.31 -12.94 14.31 -12.44 14.44 -12.31 14.44 -11.81 14.56 -11.69 14.56 -8.56 14.44 -8.44 14.44 -7.94 14.31 -7.81 14.31 -7.31 14.19 -7.19 14.19 -6.69 14.06 -6.56 14.06 -6.06 13.94 -5.94 13.94 -5.44 13.81 -5.31 13.81 -4.81 13.56 -3.94 12.94 -2.69 11.94 -1.69 10.44 -0.94 9.06 -0.94 7.56 -1.69 6.69 -2.56 5.81 -4.31 5.81 -4.81 5.69 -4.94 5.69 -5.44 5.56 -5.56 5.56 -6.06 5.44 -6.19 5.44 -6.69 5.31 -6.81 5.31 -7.31 5.19 -7.44 5.19 -7.94 4.94 -8.69 4.94 -11.56 5.06 -11.69 5.81 -15.94 6.69 -17.69 7.56 -18.56Z"/>
<path transform="translate(34.26 658.20)" fill="#000" fill-rule="evenodd" d="M24.69 -2.81 23.94 -2.81 23.56 -2.56 22.44 -1.31 22.56 -0.19 23.56 0.81 24.31 1.06 25.06 0.81 26.06 -0.19 26.19 -0.56 26.19 -1.31 26.06 -1.56ZM59.31 -21.31 58.56 -21.06 55.69 -18.19 54.06 -17.44 53.44 -16.69 53.56 -15.94 53.94 -15.56 54.31 -15.44 55.06 -15.56 56.56 -16.31 56.94 -16.69 57.19 -16.56 57.19 -1.06 57.06 -0.94 54.31 -0.94 53.94 -0.81 53.44 -0.19 53.44 0.31 53.94 0.94 54.31 1.06 63.19 1.06 63.56 0.94 64.06 0.31 64.06 -0.19 63.56 -0.81 63.19 -0.94 60.44 -0.94 60.31 -1.06 60.31 -20.31 60.06 -20.81 59.69 -21.19ZM37.44 -21.31 37.06 -21.06 34.94 -20.44 34.19 -19.94 32.19 -17.06 32.19 -16.81 31.94 -16.44 31.94 -15.94 31.81 -15.81 31.81 -15.31 31.69 -15.19 31.69 -14.69 31.56 -14.56 31.56 -14.06 31.44 -13.94 31.44 -13.44 31.31 -13.31 31.31 -12.81 31.06 -12.06 31.06 -8.19 31.19 -8.06 31.94 -3.81 32.19 -3.44 32.19 -3.19 33.94 -0.56 34.94 0.19 37.06 0.81 37.44 1.06 40.31 1.06 40.69 0.81 42.81 0.19 43.56 -0.31 45.19 -2.81 45.56 -3.19 45.81 -3.94 46.56 -8.19 46.69 -8.31 46.69 -11.94 46.56 -12.06 46.56 -12.56 46.44 -12.69 46.44 -13.19 46.31 -13.31 46.31 -13.81 46.19 -13.94 46.19 -14.44 46.06 -14.56 46.06 -15.06 45.94 -15.19 45.94 -15.69 45.81 -15.81 45.81 -16.31 45.56 -17.06 45.19 -17.44 43.69 -19.81 42.81 -20.44 40.19 -21.31ZM38.19 -19.31 39.56 -19.31 41.06 -18.56 41.94 -17.69 42.81 -15.94 42.81 -15.44 42.94 -15.31 42.94 -14.81 43.06 -14.69 43.06 -14.19 43.19 -14.06 43.19 -13.56 43.31 -13.44 43.31 -12.94 43.44 -12.81 43.44 -12.31 43.69 -11.56 43.69 -8.69 43.56 -8.56 42.81 -4.31 41.94 -2.56 41.06 -1.69 39.56 -0.94 38.19 -0.94 36.69 -1.69 35.69 -2.69 34.94 -4.31 34.44 -7.19 34.31 -7.31 34.31 -7.81 34.19 -7.94 34.19 -8.44 34.06 -8.56 34.06 -11.69 34.19 -11.81 34.19 -12.31 34.31 -12.44 34.31 -12.94 34.44 -13.06 34.44 -13.56 34.56 -13.69 34.56 -14.19 34.69 -14.31 34.69 -14.81 34.81 -14.94 34.81 -15.44 35.06 -16.31 35.69 -17.56 36.69 -18.56ZM8.44 -21.31 5.81 -20.44 5.06 -19.94 3.44 -17.44 3.06 -17.06 2.81 -16.31 2.06 -12.06 1.94 -11.94 1.94 -8.31 2.06 -8.19 2.06 -7.69 2.19 -7.56 2.19 -7.06 2.31 -6.94 2.31 -6.44 2.44 -6.31 2.44 -5.81 2.56 -5.69 2.56 -5.19 2.69 -5.06 2.69 -4.56 2.81 -4.44 2.81 -3.94 3.06 -3.19 3.44 -2.81 4.94 -0.44 5.81 0.19 7.94 0.81 8.31 1.06 11.19 1.06 11.56 0.81 13.69 0.19 14.44 -0.31 16.44 -3.19 16.44 -3.44 16.69 -3.81 16.69 -4.31 16.81 -4.44 16.81 -4.94 16.94 -5.06 16.94 -5.56 17.06 -5.69 17.06 -6.19 17.19 -6.31 17.19 -6.81 17.31 -6.94 17.31 -7.44 17.56 -8.19 17.56 -12.06 17.44 -12.19 16.69 -16.44 16.44 -16.81 16.44 -17.06 14.69 -19.69 13.69 -20.44 11.56 -21.06 11.19 -21.31 10.94 -21.19 10.81 -21.31ZM9.06 -19.31 10.44 -19.31 11.94 -18.56 12.94 -17.56 13.69 -15.94 14.19 -13.06 14.31 -12.94 14.31 -12.44 14.44 -12.31 14.44 -11.81 14.56 -11.69 14.56 -8.56 14.44 -8.44 14.44 -7.94 14.31 -7.81 14.31 -7.31 14.19 -7.19 14.19 -6.69 14.06 -6.56 14.06 -6.06 13.94 -5.94 13.94 -5.44 13.81 -5.31 13.81 -4.81 13.56 -3.94 12.94 -2.69 11.94 -1.69 10.44 -0.94 9.06 -0.94 7.56 -1.69 6.69 -2.56 5.81 -4.31 5.81 -4.81 5.69 -4.94 5.69 -5.44 5.56 -5.56 5.56 -6.06 5.44 -6.19 5.44 -6.69 5.31 -6.81 5.31 -7.31 5.19 -7.44 5.19 -7.94 4.94 -8.69 4.94 -11.56 5.06 -11.69 5.81 -15.94 6.69 -17.69 7.56 -18.56Z"/>
<path transform="translate(715.10 77.20)" fill="#ff0000" fill-rule="evenodd" d="M24.69 -2.81 23.94 -2.81 23.56 -2.56 22.44 -1.31 22.56 -0.19 23.56 0.81 24.31 1.06 25.06 0.81 26.06 -0.19 26.19 -0.56 26.19 -1.31 26.06 -1.56ZM37.44 -21.31 37.06 -21.06 34.94 -20.44 34.19 -19.94 32.19 -17.06 32.19 -16.81 31.94 -16.44 31.94 -15.94 31.81 -15.81 31.81 -15.31 31.69 -15.19 31.69 -14.69 31.56 -14.56 31.56 -14.06 31.44 -13.94 31.44 -13.44 31.31 -13.31 31.31 -12.81 31.06 -12.06 31.06 -8.19 31.19 -8.06 31.94 -3.81 32.19 -3.44 32.19 -3.19 33.94 -0.56 34.94 0.19 37.06 0.81 37.44 1.06 40.31 1.06 40.69 0.81 42.81 0.19 43.56 -0.31 45.19 -2.81 45.56 -3.19 45.81 -3.94 46.56 -8.19 46.69 -8.31 46.69 -11.94 46.56 -12.06 46.56 -12.56 46.44 -12.69 46.44 -13.19 46.31 -13.31 46.31 -13.81 46.19 -13.94 46.19 -14.44 46.06 -14.56 46.06 -15.06 45.94 -15.19 45.94 -15.69 45.81 -15.81 45.81 -16.31 45.56 -17.06 45.19 -17.44 43.69 -19.81 42.81 -20.44 40.19 -21.31ZM38.19 -19.31 39.56 -19.31 41.06 -18.56 41.94 -17.69 42.81 -15.94 42.81 -15.44 42.94 -15.31 42.94 -14.81 43.06 -14.69 43.06 -14.19 43.19 -14.06 43.19 -13.56 43.31 -13.44 43.31 -12.94 43.44 -12.81 43.44 -12.31 43.69 -11.56 43.69 -8.69 43.56 -8.56 42.81 -4.31 41.94 -2.56 41.06 -1.69 39.56 -0.94 38.19 -0.94 36.69 -1.69 35.69 -2.69 34.94 -4.31 34.44 -7.19 34.31 -7.31 34.31 -7.81 34.19 -7.94 34.19 -8.44 34.06 -8.56 34.06 -11.69 34.19 -11.81 34.19 -12.31 34.31 -12.44 34.31 -12.94 34.44 -13.06 34.44 -13.56 34.56 -13.69 34.56 -14.19 34.69 -14.31 34.69 -14.81 34.81 -14.94 34.81 -15.44 35.06 -16.31 35.69 -17.56 36.69 -18.56ZM10.81 -21.31 10.06 -21.06 7.19 -18.19 5.56 -17.44 4.94 -16.69 5.06 -15.94 5.44 -15.56 5.81 -15.44 6.56 -15.56 8.06 -16.31 8.44 -16.69 8.69 -16.56 8.69 -1.06 8.56 -0.94 5.81 -0.94 5.44 -0.81 4.94 -0.19 4.94 0.31 5.44 0.94 5.81 1.06 14.69 1.06 15.06 0.94 15.56 0.31 15.56 -0.19 15.06 -0.81 14.69 -0.94 11.94 -0.94 11.81 -1.06 11.81 -20.31 11.56 -20.81 11.19 -21.19Z"/>
<path transform="translate(648.00 165.90)" fill="#ff9900" fill-rule="evenodd" d="M24.69 -2.81 23.94 -2.81 23.56 -2.56 22.44 -1.31 22.56 -0.19 23.56 0.81 24.31 1.06 25.06 0.81 26.06 -0.19 26.19 -0.56 26.19 -1.31 26.06 -1.56ZM36.56 -21.31 33.69 -20.31 32.06 -18.81 31.19 -17.06 31.19 -16.56 31.06 -16.44 31.06 -15.44 31.31 -14.69 32.69 -13.56 33.31 -13.56 33.81 -13.81 34.81 -14.81 34.94 -15.06 34.94 -15.81 34.69 -16.06 34.81 -16.19 34.69 -16.19 33.69 -17.31 33.81 -17.69 34.81 -18.56 37.06 -19.31 40.56 -19.31 41.81 -18.69 42.06 -18.44 42.69 -17.19 42.69 -14.69 42.06 -13.44 41.81 -13.19 40.44 -12.56 37.81 -12.56 37.44 -12.44 36.94 -11.81 36.94 -11.31 37.44 -10.69 37.81 -10.56 40.56 -10.56 42.06 -9.81 42.81 -9.06 43.69 -6.56 43.69 -4.06 42.94 -2.56 42.06 -1.69 40.56 -0.94 37.06 -0.94 34.81 -1.69 33.81 -2.56 33.69 -2.81 33.81 -3.19 34.81 -4.06 34.69 -4.19 34.94 -4.44 34.94 -5.19 33.81 -6.44 33.31 -6.69 32.81 -6.69 32.31 -6.44 31.31 -5.56 31.06 -4.81 31.19 -3.19 32.06 -1.44 32.19 -1.44 33.31 -0.19 33.94 0.19 36.56 1.06 36.69 0.94 36.81 1.06 41.19 1.06 43.81 0.19 44.44 -0.19 45.69 -1.56 46.56 -3.31 46.56 -3.69 46.69 -3.81 46.69 -6.81 46.56 -6.94 46.56 -7.31 45.44 -9.44 43.56 -11.19 43.69 -11.44 44.06 -11.56 44.69 -12.19 45.56 -13.94 45.56 -14.31 45.69 -14.44 45.69 -17.44 45.56 -17.56 45.56 -17.94 44.69 -19.69 43.81 -20.44 41.19 -21.31 36.81 -21.31 36.69 -21.19ZM8.44 -21.31 5.81 -20.44 5.06 -19.94 3.44 -17.44 3.06 -17.06 2.81 -16.31 2.06 -12.06 1.94 -11.94 1.94 -8.31 2.06 -8.19 2.06 -7.69 2.19 -7.56 2.19 -7.06 2.31 -6.94 2.31 -6.44 2.44 -6.31 2.44 -5.81 2.56 -5.69 2.56 -5.19 2.69 -5.06 2.69 -4.56 2.81 -4.44 2.81 -3.94 3.06 -3.19 3.44 -2.81 4.94 -0.44 5.81 0.19 7.94 0.81 8.31 1.06 11.19 1.06 11.56 0.81 13.69 0.19 14.44 -0.31 16.44 -3.19 16.44 -3.44 16.69 -3.81 16.69 -4.31 16.81 -4.44 16.81 -4.94 16.94 -5.06 16.94 -5.56 17.06 -5.69 17.06 -6.19 17.19 -6.31 17.19 -6.81 17.31 -6.94 17.31 -7.44 17.56 -8.19 17.56 -12.06 17.44 -12.19 16.69 -16.44 16.44 -16.81 16.44 -17.06 14.69 -19.69 13.69 -20.44 11.56 -21.06 11.19 -21.31 10.94 -21.19 10.81 -21.31ZM9.06 -19.31 10.44 -19.31 11.94 -18.56 12.94 -17.56 13.69 -15.94 14.19 -13.06 14.31 -12.94 14.31 -12.44 14.44 -12.31 14.44 -11.81 14.56 -11.69 14.56 -8.56 14.44 -8.44 14.44 -7.94 14.31 -7.81 14.31 -7.31 14.19 -7.19 14.19 -6.69 14.06 -6.56 14.06 -6.06 13.94 -5.94 13.94 -5.44 13.81 -5.31 13.81 -4.81 13.56 -3.94 12.94 -2.69 11.94 -1.69 10.44 -0.94 9.06 -0.94 7.56 -1.69 6.69 -2.56 5.81 -4.31 5.81 -4.81 5.69 -4.94 5.69 -5.44 5.56 -5.56 5.56 -6.06 5.44 -6.19 5.44 -6.69 5.31 -6.81 5.31 -7.31 5.19 -7.44 5.19 -7.94 4.94 -8.69 4.94 -11.56 5.06 -11.69 5.81 -15.94 6.69 -17.69 7.56 -18.56Z"/>
<path transform="translate(581.50 259.70)" fill="#c7c64e" fill-rule="evenodd" d="M24.69 -2.81 23.94 -2.81 23.56 -2.56 22.44 -1.31 22.56 -0.19 23.56 0.81 24.31 1.06 25.06 0.81 26.06 -0.19 26.19 -0.56 26.19 -1.31 26.06 -1.56ZM39.81 -21.31 39.06 -21.06 36.44 -18.31 34.69 -17.44 34.06 -16.81 34.06 -16.06 34.56 -15.56 34.94 -15.44 35.56 -15.56 37.31 -16.44 37.56 -16.69 37.81 -16.56 37.81 -1.06 37.69 -0.94 34.94 -0.94 34.56 -0.81 34.06 -0.31 34.06 0.44 34.56 0.94 34.94 1.06 43.81 1.06 44.19 0.94 44.56 0.56 44.69 0.19 44.56 -0.44 44.19 -0.81 43.81 -0.94 41.06 -0.94 40.81 -1.19 40.81 -20.44 40.44 -21.06ZM8.44 -21.31 5.81 -20.44 5.06 -19.94 3.44 -17.44 3.06 -17.06 2.81 -16.31 2.06 -12.06 1.94 -11.94 1.94 -8.31 2.06 -8.19 2.06 -7.69 2.19 -7.56 2.19 -7.06 2.31 -6.94 2.31 -6.44 2.44 -6.31 2.44 -5.81 2.56 -5.69 2.56 -5.19 2.69 -5.06 2.69 -4.56 2.81 -4.44 2.81 -3.94 3.06 -3.19 3.44 -2.81 4.94 -0.44 5.81 0.19 7.94 0.81 8.31 1.06 11.19 1.06 11.56 0.81 13.69 0.19 14.44 -0.31 16.44 -3.19 16.44 -3.44 16.69 -3.81 16.69 -4.31 16.81 -4.44 16.81 -4.94 16.94 -5.06 16.94 -5.56 17.06 -5.69 17.06 -6.19 17.19 -6.31 17.19 -6.81 17.31 -6.94 17.31 -7.44 17.56 -8.19 17.56 -12.06 17.44 -12.19 16.69 -16.44 16.44 -16.81 16.44 -17.06 14.69 -19.69 13.69 -20.44 11.56 -21.06 11.19 -21.31 10.94 -21.19 10.81 -21.31ZM9.06 -19.31 10.44 -19.31 11.94 -18.56 12.94 -17.56 13.69 -15.94 14.19 -13.06 14.31 -12.94 14.31 -12.44 14.44 -12.31 14.44 -11.81 14.56 -11.69 14.56 -8.56 14.44 -8.44 14.44 -7.94 14.31 -7.81 14.31 -7.31 14.19 -7.19 14.19 -6.69 14.06 -6.56 14.06 -6.06 13.94 -5.94 13.94 -5.44 13.81 -5.31 13.81 -4.81 13.56 -3.94 12.94 -2.69 11.94 -1.69 10.44 -0.94 9.06 -0.94 7.56 -1.69 6.69 -2.56 5.81 -4.31 5.81 -4.81 5.69 -4.94 5.69 -5.44 5.56 -5.56 5.56 -6.06 5.44 -6.19 5.44 -6.69 5.31 -6.81 5.31 -7.31 5.19 -7.44 5.19 -7.94 4.94 -8.69 4.94 -11.56 5.06 -11.69 5.81 -15.94 6.69 -17.69 7.56 -18.56Z"/>
<path transform="translate(501.50 368.80)" fill="#4dcc4d" fill-rule="evenodd" d="M24.69 -2.81 23.94 -2.81 23.56 -2.56 22.44 -1.31 22.56 -0.19 23.56 0.81 24.31 1.06 25.06 0.81 26.06 -0.19 26.19 -0.56 26.19 -1.31 26.06 -1.56ZM55.94 -21.31 53.06 -20.31 51.69 -19.06 50.56 -16.94 50.56 -16.56 50.44 -16.44 50.44 -15.44 50.56 -15.06 51.69 -13.81 52.19 -13.56 52.81 -13.56 54.19 -14.69 54.31 -15.06 54.19 -16.19 53.06 -17.31 53.31 -17.81 53.94 -18.44 56.56 -19.31 59.94 -19.31 61.19 -18.69 61.56 -18.31 62.06 -17.31 62.06 -14.56 61.56 -13.56 61.19 -13.19 59.81 -12.56 57.19 -12.56 56.81 -12.44 56.44 -12.06 56.31 -11.44 56.44 -11.06 57.19 -10.56 59.94 -10.56 61.44 -9.81 62.31 -8.94 63.06 -6.69 63.06 -4.06 62.31 -2.56 61.44 -1.69 59.94 -0.94 56.44 -0.94 53.94 -1.81 53.31 -2.44 53.06 -2.94 54.19 -4.06 54.31 -5.19 54.19 -5.56 53.19 -6.44 52.69 -6.69 52.19 -6.69 51.69 -6.44 50.69 -5.44 50.44 -4.81 50.44 -3.81 50.56 -3.69 50.56 -3.31 51.69 -1.19 52.69 -0.19 53.31 0.19 55.94 1.06 56.19 0.94 56.31 1.06 60.69 1.06 61.06 0.81 63.19 0.19 63.81 -0.19 64.81 -1.31 65.06 -1.44 65.94 -3.19 65.94 -3.69 66.06 -3.81 66.06 -6.81 65.94 -6.94 65.94 -7.31 64.81 -9.44 62.94 -11.31 64.06 -12.06 64.94 -13.81 64.94 -14.19 65.06 -14.31 65.06 -17.56 64.94 -17.69 64.94 -18.06 64.06 -19.81 63.19 -20.44 60.56 -21.31 56.31 -21.31 56.19 -21.19ZM37.44 -21.31 37.06 -21.06 34.94 -20.44 34.19 -19.94 32.19 -17.06 32.19 -16.81 31.94 -16.44 31.94 -15.94 31.81 -15.81 31.81 -15.31 31.69 -15.19 31.69 -14.69 31.56 -14.56 31.56 -14.06 31.44 -13.94 31.44 -13.44 31.31 -13.31 31.31 -12.81 31.06 -12.06 31.06 -8.19 31.19 -8.06 31.94 -3.81 32.19 -3.44 32.19 -3.19 33.94 -0.56 34.94 0.19 37.06 0.81 37.44 1.06 40.31 1.06 40.69 0.81 42.81 0.19 43.56 -0.31 45.19 -2.81 45.56 -3.19 45.81 -3.94 46.56 -8.19 46.69 -8.31 46.69 -11.94 46.56 -12.06 46.56 -12.56 46.44 -12.69 46.44 -13.19 46.31 -13.31 46.31 -13.81 46.19 -13.94 46.19 -14.44 46.06 -14.56 46.06 -15.06 45.94 -15.19 45.94 -15.69 45.81 -15.81 45.81 -16.31 45.56 -17.06 45.19 -17.44 43.69 -19.81 42.81 -20.44 40.19 -21.31ZM38.19 -19.31 39.56 -19.31 41.06 -18.56 41.94 -17.69 42.81 -15.94 42.81 -15.44 42.94 -15.31 42.94 -14.81 43.06 -14.69 43.06 -14.19 43.19 -14.06 43.19 -13.56 43.31 -13.44 43.31 -12.94 43.44 -12.81 43.44 -12.31 43.69 -11.56 43.69 -8.69 43.56 -8.56 42.81 -4.31 41.94 -2.56 41.06 -1.69 39.56 -0.94 38.19 -0.94 36.69 -1.69 35.69 -2.69 34.94 -4.31 34.44 -7.19 34.31 -7.31 34.31 -7.81 34.19 -7.94 34.19 -8.44 34.06 -8.56 34.06 -11.69 34.19 -11.81 34.19 -12.31 34.31 -12.44 34.31 -12.94 34.44 -13.06 34.44 -13.56 34.56 -13.69 34.56 -14.19 34.69 -14.31 34.69 -14.81 34.81 -14.94 34.81 -15.44 35.06 -16.31 35.69 -17.56 36.69 -18.56ZM8.44 -21.31 5.81 -20.44 5.06 -19.94 3.44 -17.44 3.06 -17.06 2.81 -16.31 2.06 -12.06 1.94 -11.94 1.94 -8.31 2.06 -8.19 2.06 -7.69 2.19 -7.56 2.19 -7.06 2.31 -6.94 2.31 -6.44 2.44 -6.31 2.44 -5.81 2.56 -5.69 2.56 -5.19 2.69 -5.06 2.69 -4.56 2.81 -4.44 2.81 -3.94 3.06 -3.19 3.44 -2.81 4.94 -0.44 5.81 0.19 7.94 0.81 8.31 1.06 11.19 1.06 11.56 0.81 13.69 0.19 14.44 -0.31 16.44 -3.19 16.44 -3.44 16.69 -3.81 16.69 -4.31 16.81 -4.44 16.81 -4.94 16.94 -5.06 16.94 -5.56 17.06 -5.69 17.06 -6.19 17.19 -6.31 17.19 -6.81 17.31 -6.94 17.31 -7.44 17.56 -8.19 17.56 -12.06 17.44 -12.19 16.69 -16.44 16.44 -16.81 16.44 -17.06 14.69 -19.69 13.69 -20.44 11.56 -21.06 11.19 -21.31 10.94 -21.19 10.81 -21.31ZM9.06 -19.31 10.44 -19.31 11.94 -18.56 12.94 -17.56 13.69 -15.94 14.19 -13.06 14.31 -12.94 14.31 -12.44 14.44 -12.31 14.44 -11.81 14.56 -11.69 14.56 -8.56 14.44 -8.44 14.44 -7.94 14.31 -7.81 14.31 -7.31 14.19 -7.19 14.19 -6.69 14.06 -6.56 14.06 -6.06 13.94 -5.94 13.94 -5.44 13.81 -5.31 13.81 -4.81 13.56 -3.94 12.94 -2.69 11.94 -1.69 10.44 -0.94 9.06 -0.94 7.56 -1.69 6.69 -2.56 5.81 -4.31 5.81 -4.81 5.69 -4.94 5.69 -5.44 5.56 -5.56 5.56 -6.06 5.44 -6.19 5.44 -6.69 5.31 -6.81 5.31 -7.31 5.19 -7.44 5.19 -7.94 4.94 -8.69 4.94 -11.56 5.06 -11.69 5.81 -15.94 6.69 -17.69 7.56 -18.56Z"/>
<path transform="translate(361.50 444.60)" fill="#55b8bb" fill-rule="evenodd" d="M24.69 -2.81 23.94 -2.81 23.56 -2.56 22.44 -1.31 22.56 -0.19 23.56 0.81 24.31 1.06 25.06 0.81 26.06 -0.19 26.19 -0.56 26.19 -1.31 26.06 -1.56ZM59.31 -21.31 58.56 -21.06 55.69 -18.19 54.06 -17.44 53.44 -16.69 53.56 -15.94 53.94 -15.56 54.31 -15.44 55.06 -15.56 56.56 -16.31 56.94 -16.69 57.19 -16.56 57.19 -1.06 57.06 -0.94 54.31 -0.94 53.94 -0.81 53.44 -0.19 53.44 0.31 53.94 0.94 54.31 1.06 63.19 1.06 63.56 0.94 64.06 0.31 64.06 -0.19 63.56 -0.81 63.19 -0.94 60.44 -0.94 60.31 -1.06 60.31 -20.31 60.06 -20.81 59.69 -21.19ZM37.44 -21.31 37.06 -21.06 34.94 -20.44 34.19 -19.94 32.19 -17.06 32.19 -16.81 31.94 -16.44 31.94 -15.94 31.81 -15.81 31.81 -15.31 31.69 -15.19 31.69 -14.69 31.56 -14.56 31.56 -14.06 31.44 -13.94 31.44 -13.44 31.31 -13.31 31.31 -12.81 31.06 -12.06 31.06 -8.19 31.19 -8.06 31.94 -3.81 32.19 -3.44 32.19 -3.19 33.94 -0.56 34.94 0.19 37.06 0.81 37.44 1.06 40.31 1.06 40.69 0.81 42.81 0.19 43.56 -0.31 45.19 -2.81 45.56 -3.19 45.81 -3.94 46.56 -8.19 46.69 -8.31 46.69 -11.94 46.56 -12.06 46.56 -12.56 46.44 -12.69 46.44 -13.19 46.31 -13.31 46.31 -13.81 46.19 -13.94 46.19 -14.44 46.06 -14.56 46.06 -15.06 45.94 -15.19 45.94 -15.69 45.81 -15.81 45.81 -16.31 45.56 -17.06 45.19 -17.44 43.69 -19.81 42.81 -20.44 40.19 -21.31ZM38.19 -19.31 39.56 -19.31 41.06 -18.56 41.94 -17.69 42.81 -15.94 42.81 -15.44 42.94 -15.31 42.94 -14.81 43.06 -14.69 43.06 -14.19 43.19 -14.06 43.19 -13.56 43.31 -13.44 43.31 -12.94 43.44 -12.81 43.44 -12.31 43.69 -11.56 43.69 -8.69 43.56 -8.56 42.81 -4.31 41.94 -2.56 41.06 -1.69 39.56 -0.94 38.19 -0.94 36.69 -1.69 35.69 -2.69 34.94 -4.31 34.44 -7.19 34.31 -7.31 34.31 -7.81 34.19 -7.94 34.19 -8.44 34.06 -8.56 34.06 -11.69 34.19 -11.81 34.19 -12.31 34.31 -12.44 34.31 -12.94 34.44 -13.06 34.44 -13.56 34.56 -13.69 34.56 -14.19 34.69 -14.31 34.69 -14.81 34.81 -14.94 34.81 -15.44 35.06 -16.31 35.69 -17.56 36.69 -18.56ZM8.44 -21.31 5.81 -20.44 5.06 -19.94 3.44 -17.44 3.06 -17.06 2.81 -16.31 2.06 -12.06 1.94 -11.94 1.94 -8.31 2.06 -8.19 2.06 -7.69 2.19 -7.56 2.19 -7.06 2.31 -6.94 2.31 -6.44 2.44 -6.31 2.44 -5.81 2.56 -5.69 2.56 -5.19 2.69 -5.06 2.69 -4.56 2.81 -4.44 2.81 -3.94 3.06 -3.19 3.44 -2.81 4.94 -0.44 5.81 0.19 7.94 0.81 8.31 1.06 11.19 1.06 11.56 0.81 13.69 0.19 14.44 -0.31 16.44 -3.19 16.44 -3.44 16.69 -3.81 16.69 -4.31 16.81 -4.44 16.81 -4.94 16.94 -5.06 16.94 -5.56 17.06 -5.69 17.06 -6.19 17.19 -6.31 17.19 -6.81 17.31 -6.94 17.31 -7.44 17.56 -8.19 17.56 -12.06 17.44 -12.19 16.69 -16.44 16.44 -16.81 16.44 -17.06 14.69 -19.69 13.69 -20.44 11.56 -21.06 11.19 -21.31 10.94 -21.19 10.81 -21.31ZM9.06 -19.31 10.44 -19.31 11.94 -18.56 12.94 -17.56 13.69 -15.94 14.19 -13.06 14.31 -12.94 14.31 -12.44 14.44 -12.31 14.44 -11.81 14.56 -11.69 14.56 -8.56 14.44 -8.44 14.44 -7.94 14.31 -7.81 14.31 -7.31 14.19 -7.19 14.19 -6.69 14.06 -6.56 14.06 -6.06 13.94 -5.94 13.94 -5.44 13.81 -5.31 13.81 -4.81 13.56 -3.94 12.94 -2.69 11.94 -1.69 10.44 -0.94 9.06 -0.94 7.56 -1.69 6.69 -2.56 5.81 -4.31 5.81 -4.81 5.69 -4.94 5.69 -5.44 5.56 -5.56 5.56 -6.06 5.44 -6.19 5.44 -6.69 5.31 -6.81 5.31 -7.31 5.19 -7.44 5.19 -7.94 4.94 -8.69 4.94 -11.56 5.06 -11.69 5.81 -15.94 6.69 -17.69 7.56 -18.56Z"/>
<path transform="translate(182.40 520.80)" fill="#4d80cc" fill-rule="evenodd" d="M43.94 -20.94 43.69 -20.19 44.06 -19.56 44.56 -19.31 46.44 -19.31 46.56 -19.19 46.56 -1.06 46.44 -0.94 44.56 -0.94 44.06 -0.69 43.81 -0.44 43.81 -0.06 43.69 0.06 43.81 0.19 43.81 0.56 44.56 1.06 51.56 1.06 51.94 0.94 52.31 0.56 52.44 -0.06 52.31 -0.44 51.94 -0.81 51.56 -0.94 49.69 -0.94 49.56 -1.06 49.56 -9.44 49.69 -9.56 53.31 -9.56 54.31 -9.06 54.69 -8.69 55.44 -7.19 55.81 -5.56 56.06 -5.06 56.06 -4.69 56.31 -4.19 56.31 -3.81 56.56 -3.31 56.56 -2.94 56.81 -2.44 56.81 -2.06 57.06 -1.56 57.06 -1.19 57.56 -0.19 58.56 0.81 59.19 1.06 61.19 1.06 62.06 0.56 63.06 -1.31 63.06 -1.69 63.19 -1.81 63.19 -2.81 63.06 -3.19 62.56 -3.69 61.94 -3.81 61.31 -3.31 61.06 -2.81 61.06 -2.31 60.69 -1.94 60.06 -2.56 58.94 -5.06 58.94 -5.31 58.56 -5.94 58.56 -6.19 58.19 -6.81 58.19 -7.06 57.81 -7.69 57.81 -7.94 57.44 -8.56 57.44 -8.81 56.94 -9.56 57.06 -9.81 59.56 -10.56 59.94 -10.81 60.94 -11.81 62.06 -13.94 62.06 -14.31 62.19 -14.44 62.19 -16.44 62.06 -16.56 62.06 -17.06 60.94 -19.06 59.56 -20.31 56.69 -21.31 44.69 -21.31ZM49.56 -19.19 49.69 -19.31 56.06 -19.31 57.56 -18.56 58.44 -17.69 59.19 -16.19 59.19 -14.69 58.44 -13.19 57.69 -12.44 56.19 -11.69 49.69 -11.69 49.56 -11.81ZM1.56 -21.19 1.06 -20.56 1.06 -20.06 1.56 -19.44 1.94 -19.31 3.69 -19.31 3.94 -19.06 3.94 -1.19 3.69 -0.94 1.94 -0.94 1.56 -0.81 1.06 -0.19 1.19 0.56 1.56 0.94 1.94 1.06 8.81 1.06 9.19 0.94 9.69 0.44 9.81 0.06 9.69 -0.31 9.19 -0.81 8.81 -0.94 7.06 -0.94 6.94 -1.06 6.94 -9.44 7.06 -9.56 10.56 -9.56 11.81 -8.94 12.81 -7.06 12.81 -6.69 13.06 -6.19 13.06 -5.81 13.31 -5.31 13.31 -4.94 13.56 -4.44 13.56 -4.06 13.81 -3.56 14.31 -1.44 14.81 -0.19 15.81 0.81 16.06 0.81 16.44 1.06 18.56 1.06 19.44 0.56 20.44 -1.44 20.31 -1.56 20.44 -1.69 20.44 -2.94 20.31 -3.31 19.94 -3.69 19.31 -3.81 18.94 -3.69 18.56 -3.31 18.44 -2.31 18.06 -1.94 17.44 -2.44 15.81 -6.06 15.81 -6.31 15.44 -6.94 15.44 -7.19 15.06 -7.81 15.06 -8.06 14.69 -8.69 14.69 -8.94 14.19 -9.56 14.44 -9.81 16.56 -10.44 17.06 -10.81 17.31 -10.81 17.31 -10.94 18.31 -11.81 18.19 -11.94 18.44 -12.06 19.19 -13.69 19.44 -13.94 19.44 -14.44 19.56 -14.56 19.56 -16.44 19.44 -16.56 19.44 -16.94 18.31 -19.06 16.94 -20.31 14.81 -20.94 14.06 -21.31 1.94 -21.31ZM6.94 -19.19 7.06 -19.31 13.31 -19.31 14.69 -18.69 15.69 -17.81 16.44 -16.31 16.44 -14.56 15.81 -13.31 14.81 -12.31 13.56 -11.69 7.06 -11.69 6.94 -11.81ZM40.81 -25.19 40.19 -24.94 39.56 -24.19 39.19 -23.31 38.44 -22.19 38.06 -21.31 37.31 -20.19 36.94 -19.31 36.19 -18.19 35.81 -17.31 35.06 -16.19 34.69 -15.31 33.94 -14.19 33.56 -13.31 32.81 -12.19 32.44 -11.31 31.69 -10.19 31.31 -9.31 30.56 -8.19 30.19 -7.31 29.94 -7.06 27.94 -3.31 27.19 -2.19 26.81 -1.31 26.06 -0.19 25.69 0.69 24.94 1.81 24.56 2.69 23.81 3.81 23.44 4.69 22.44 6.31 22.44 7.31 22.81 7.69 23.56 7.81 24.31 7.31 26.31 3.56 27.06 2.44 27.44 1.56 28.19 0.44 28.56 -0.44 29.31 -1.56 29.69 -2.44 30.44 -3.56 30.81 -4.44 31.56 -5.56 31.94 -6.44 32.69 -7.56 33.06 -8.44 33.81 -9.56 34.19 -10.44 34.94 -11.56 35.31 -12.44 36.06 -13.56 36.44 -14.44 37.19 -15.56 37.56 -16.44 38.31 -17.56 38.69 -18.44 39.44 -19.56 39.81 -20.44 40.56 -21.56 40.94 -22.44 41.69 -23.56 41.69 -24.06 41.81 -24.19 41.56 -24.81Z"/>
<path transform="translate(246.46 530.26)" fill="#4d80cc" fill-rule="evenodd" d="M8.06 -7.69 7.81 -7.06 7.94 -5.81 8.94 -5.19 8.56 -5.06 7.81 -4.44 7.19 -2.94 7.19 -1.69 7.31 -1.56 7.31 -1.06 7.69 -0.31 8.44 0.44 9.69 0.81 10.06 1.06 12.31 1.06 12.44 0.94 12.94 0.94 14.31 0.06 14.94 0.56 16.19 1.06 17.06 1.06 17.81 0.56 17.81 0.19 17.94 0.06 17.81 -0.06 17.81 -0.44 17.31 -0.81 16.81 -0.94 16.19 -1.94 16.19 -5.81 16.06 -5.94 16.06 -6.44 15.69 -7.19 14.81 -8.19 13.56 -8.94 13.06 -8.94 12.94 -9.06 10.44 -9.06 8.94 -8.44ZM13.56 -3.94 13.56 -2.06 12.81 -1.31 12.06 -0.94 10.81 -0.94 10.06 -1.44 9.81 -1.94 9.81 -2.69 10.44 -3.44 11.06 -3.69 11.69 -3.69 11.81 -3.81 12.44 -3.81 13.31 -4.06ZM10.06 -5.69 10.44 -6.31 10.44 -6.81 10.69 -7.06 12.69 -7.06 13.56 -6.44 13.44 -6.06 12.81 -6.06 12.69 -5.94 12.06 -5.94 11.94 -5.81 11.31 -5.81 10.44 -5.56ZM1.19 -13.19 0.81 -13.06 0.31 -12.56 0.31 -11.81 0.44 -11.56 1.06 -11.19 1.81 -11.19 1.94 -11.06 1.94 -1.06 1.81 -0.94 0.81 -0.81 0.31 -0.31 0.31 0.44 0.81 0.94 1.19 1.06 5.31 1.06 5.69 0.94 6.19 0.44 6.31 0.06 6.19 -0.31 5.69 -0.81 4.69 -0.94 4.56 -1.06 4.56 -10.94 4.81 -11.19 5.81 -11.31 6.19 -11.69 6.19 -12.06 6.31 -12.19 6.19 -12.56 5.69 -13.06 5.31 -13.19Z"/>
<path transform="translate(264.59 522.00)" fill="#4d80cc" fill-rule="evenodd" d="M2.94 -5.81 3.06 -5.31 3.94 -4.69 21.44 -4.69 22.31 -5.31 22.31 -6.19 21.44 -6.81 3.94 -6.81 3.44 -6.56 3.06 -6.19ZM2.94 -11.56 3.06 -11.19 3.56 -10.69 3.94 -10.56 21.44 -10.56 21.81 -10.69 22.31 -11.19 22.31 -11.94 21.81 -12.44 21.44 -12.56 3.81 -12.56 3.06 -12.06 3.06 -11.69Z"/>
<path transform="translate(289.90 520.80)" fill="#4d80cc" fill-rule="evenodd" d="M24.69 -2.81 23.94 -2.81 23.56 -2.56 22.44 -1.31 22.56 -0.19 23.56 0.81 24.31 1.06 25.06 0.81 26.06 -0.19 26.19 -0.56 26.19 -1.31 26.06 -1.56ZM75.31 -21.31 72.44 -20.31 71.06 -19.06 69.94 -16.94 69.94 -16.56 69.81 -16.44 69.81 -15.44 69.94 -15.06 71.06 -13.81 71.56 -13.56 72.19 -13.56 73.56 -14.69 73.81 -15.44 73.56 -16.19 72.44 -17.31 72.81 -17.94 73.56 -18.56 75.94 -19.31 79.31 -19.31 80.56 -18.69 80.94 -18.31 81.44 -17.31 81.44 -14.56 80.94 -13.56 80.56 -13.19 79.31 -12.56 76.56 -12.56 75.81 -12.06 75.81 -11.69 75.69 -11.56 75.81 -11.19 76.31 -10.69 76.69 -10.56 79.44 -10.56 81.06 -9.69 81.56 -9.19 82.44 -6.69 82.44 -3.94 81.81 -2.69 80.81 -1.69 79.31 -0.94 75.94 -0.94 73.31 -1.81 72.81 -2.31 72.44 -2.94 73.56 -4.06 73.81 -4.81 73.56 -5.56 72.19 -6.69 71.56 -6.69 71.06 -6.44 70.19 -5.56 69.81 -4.81 69.81 -3.81 69.94 -3.69 69.94 -3.31 71.06 -1.19 72.06 -0.19 72.69 0.19 75.31 1.06 75.56 0.94 75.69 1.06 80.06 1.06 80.44 0.81 82.56 0.19 83.06 -0.19 83.31 -0.19 84.19 -1.31 84.44 -1.44 85.31 -3.19 85.31 -3.56 85.44 -3.69 85.44 -6.81 85.31 -6.94 85.31 -7.31 84.19 -9.44 82.31 -11.31 83.44 -12.06 84.44 -14.06 84.31 -14.19 84.56 -14.56 84.56 -17.31 84.31 -17.69 84.44 -17.81 83.44 -19.81 82.56 -20.44 80.44 -21.06 80.06 -21.31 75.69 -21.31 75.56 -21.19ZM56.94 -21.31 54.31 -20.44 53.56 -19.94 51.94 -17.44 51.56 -17.06 51.31 -16.31 50.56 -12.06 50.44 -11.94 50.44 -8.31 50.56 -8.19 50.56 -7.69 50.69 -7.56 50.69 -7.06 50.81 -6.94 50.81 -6.44 50.94 -6.31 50.94 -5.81 51.06 -5.69 51.06 -5.19 51.19 -5.06 51.19 -4.56 51.31 -4.44 51.31 -3.94 51.56 -3.19 51.94 -2.81 53.44 -0.44 54.31 0.19 56.44 0.81 56.81 1.06 59.69 1.06 60.06 0.81 62.19 0.19 62.94 -0.31 64.94 -3.19 64.94 -3.44 65.19 -3.81 65.19 -4.31 65.31 -4.44 65.31 -4.94 65.44 -5.06 65.44 -5.56 65.56 -5.69 65.56 -6.19 65.69 -6.31 65.69 -6.81 65.81 -6.94 65.81 -7.44 66.06 -8.19 66.06 -12.06 65.94 -12.19 65.19 -16.44 64.94 -16.81 64.94 -17.06 63.19 -19.69 62.19 -20.44 60.06 -21.06 59.69 -21.31 59.44 -21.19 59.31 -21.31ZM57.56 -19.31 58.94 -19.31 60.44 -18.56 61.44 -17.56 62.19 -15.94 62.69 -13.06 62.81 -12.94 62.81 -12.44 62.94 -12.31 62.94 -11.81 63.06 -11.69 63.06 -8.56 62.94 -8.44 62.94 -7.94 62.81 -7.81 62.81 -7.31 62.69 -7.19 62.69 -6.69 62.56 -6.56 62.56 -6.06 62.44 -5.94 62.44 -5.44 62.31 -5.31 62.31 -4.81 62.06 -3.94 61.44 -2.69 60.44 -1.69 58.94 -0.94 57.56 -0.94 56.06 -1.69 55.19 -2.56 54.31 -4.31 54.31 -4.81 54.19 -4.94 54.19 -5.44 54.06 -5.56 54.06 -6.06 53.94 -6.19 53.94 -6.69 53.81 -6.81 53.81 -7.31 53.69 -7.44 53.69 -7.94 53.44 -8.69 53.44 -11.56 53.56 -11.69 54.31 -15.94 55.19 -17.69 56.06 -18.56ZM37.44 -21.31 37.06 -21.06 34.94 -20.44 34.19 -19.94 32.19 -17.06 32.19 -16.81 31.94 -16.44 31.94 -15.94 31.81 -15.81 31.81 -15.31 31.69 -15.19 31.69 -14.69 31.56 -14.56 31.56 -14.06 31.44 -13.94 31.44 -13.44 31.31 -13.31 31.31 -12.81 31.06 -12.06 31.06 -8.19 31.19 -8.06 31.94 -3.81 32.19 -3.44 32.19 -3.19 33.94 -0.56 34.94 0.19 37.06 0.81 37.44 1.06 40.31 1.06 40.69 0.81 42.81 0.19 43.56 -0.31 45.19 -2.81 45.56 -3.19 45.81 -3.94 46.56 -8.19 46.69 -8.31 46.69 -11.94 46.56 -12.06 46.56 -12.56 46.44 -12.69 46.44 -13.19 46.31 -13.31 46.31 -13.81 46.19 -13.94 46.19 -14.44 46.06 -14.56 46.06 -15.06 45.94 -15.19 45.94 -15.69 45.81 -15.81 45.81 -16.31 45.56 -17.06 45.19 -17.44 43.69 -19.81 42.81 -20.44 40.19 -21.31ZM38.19 -19.31 39.56 -19.31 41.06 -18.56 41.94 -17.69 42.81 -15.94 42.81 -15.44 42.94 -15.31 42.94 -14.81 43.06 -14.69 43.06 -14.19 43.19 -14.06 43.19 -13.56 43.31 -13.44 43.31 -12.94 43.44 -12.81 43.44 -12.31 43.69 -11.56 43.69 -8.69 43.56 -8.56 42.81 -4.31 41.94 -2.56 41.06 -1.69 39.56 -0.94 38.19 -0.94 36.69 -1.69 35.69 -2.69 34.94 -4.31 34.44 -7.19 34.31 -7.31 34.31 -7.81 34.19 -7.94 34.19 -8.44 34.06 -8.56 34.06 -11.69 34.19 -11.81 34.19 -12.31 34.31 -12.44 34.31 -12.94 34.44 -13.06 34.44 -13.56 34.56 -13.69 34.56 -14.19 34.69 -14.31 34.69 -14.81 34.81 -14.94 34.81 -15.44 35.06 -16.31 35.69 -17.56 36.69 -18.56ZM8.44 -21.31 5.81 -20.44 5.06 -19.94 3.44 -17.44 3.06 -17.06 2.81 -16.31 2.06 -12.06 1.94 -11.94 1.94 -8.31 2.06 -8.19 2.06 -7.69 2.19 -7.56 2.19 -7.06 2.31 -6.94 2.31 -6.44 2.44 -6.31 2.44 -5.81 2.56 -5.69 2.56 -5.19 2.69 -5.06 2.69 -4.56 2.81 -4.44 2.81 -3.94 3.06 -3.19 3.44 -2.81 4.94 -0.44 5.81 0.19 7.94 0.81 8.31 1.06 11.19 1.06 11.56 0.81 13.69 0.19 14.44 -0.31 16.44 -3.19 16.44 -3.44 16.69 -3.81 16.69 -4.31 16.81 -4.44 16.81 -4.94 16.94 -5.06 16.94 -5.56 17.06 -5.69 17.06 -6.19 17.19 -6.31 17.19 -6.81 17.31 -6.94 17.31 -7.44 17.56 -8.19 17.56 -12.06 17.44 -12.19 16.69 -16.44 16.44 -16.81 16.44 -17.06 14.69 -19.69 13.69 -20.44 11.56 -21.06 11.19 -21.31 10.94 -21.19 10.81 -21.31ZM9.06 -19.31 10.44 -19.31 11.94 -18.56 12.94 -17.56 13.69 -15.94 14.19 -13.06 14.31 -12.94 14.31 -12.44 14.44 -12.31 14.44 -11.81 14.56 -11.69 14.56 -8.56 14.44 -8.44 14.44 -7.94 14.31 -7.81 14.31 -7.31 14.19 -7.19 14.19 -6.69 14.06 -6.56 14.06 -6.06 13.94 -5.94 13.94 -5.44 13.81 -5.31 13.81 -4.81 13.56 -3.94 12.94 -2.69 11.94 -1.69 10.44 -0.94 9.06 -0.94 7.56 -1.69 6.69 -2.56 5.81 -4.31 5.81 -4.81 5.69 -4.94 5.69 -5.44 5.56 -5.56 5.56 -6.06 5.44 -6.19 5.44 -6.69 5.31 -6.81 5.31 -7.31 5.19 -7.44 5.19 -7.94 4.94 -8.69 4.94 -11.56 5.06 -11.69 5.81 -15.94 6.69 -17.69 7.56 -18.56Z"/>
<path transform="translate(391.40 800.00)" fill="#000" fill-rule="evenodd" d="M2.44 -25.44 1.56 -24.94 1.44 -24.19 1.94 -23.56 2.44 -23.31 4.69 -23.31 4.81 -23.19 4.81 -1.06 4.69 -0.94 2.31 -0.94 1.94 -0.81 1.44 -0.19 1.44 0.31 1.94 0.94 2.31 1.06 10.56 1.06 10.94 0.94 11.44 0.44 11.44 -0.31 10.94 -0.81 10.56 -0.94 8.19 -0.94 8.06 -1.06 8.06 -10.44 8.19 -10.56 16.44 -10.56 16.56 -10.69 16.69 -10.56 20.06 -11.69 21.81 -13.19 21.69 -13.31 21.94 -13.44 23.06 -15.69 23.06 -16.06 23.19 -16.19 23.19 -19.81 23.06 -19.94 23.06 -20.31 21.94 -22.56 21.69 -22.69 21.81 -22.81 20.56 -23.94 19.94 -24.31 16.44 -25.44ZM8.06 -23.19 8.19 -23.31 16.31 -23.31 18.19 -22.31 18.94 -21.56 19.94 -19.69 19.94 -16.31 19.06 -14.56 18.06 -13.56 16.06 -12.56 8.19 -12.56 8.06 -12.69Z"/>
<path transform="translate(416.59 811.65)" fill="#000" fill-rule="evenodd" d="M1.31 -9.81 0.44 -9.19 0.31 -8.69 0.44 -8.31 0.81 -7.94 1.31 -7.69 2.06 -7.69 2.19 -7.56 2.19 -1.06 2.06 -0.94 1.31 -0.94 0.56 -0.56 0.31 0.06 0.44 0.19 0.44 0.56 1.31 1.06 5.81 1.06 6.19 0.94 6.56 0.56 6.69 0.19 6.56 -0.44 6.19 -0.81 5.06 -0.94 4.81 -1.19 4.81 -8.94 4.19 -9.69 3.81 -9.81ZM2.81 -14.06 1.81 -13.19 1.56 -12.56 1.81 -11.81 2.44 -11.19 2.94 -10.94 3.44 -10.94 3.94 -11.19 4.56 -11.81 4.81 -12.69 4.56 -13.19 3.56 -14.06Z"/>
<path transform="translate(442.39 800.00)" fill="#000" fill-rule="evenodd" d="M12.44 -29.94 9.56 -27.19 7.31 -23.81 4.94 -19.06 4.56 -16.94 4.44 -16.81 4.44 -16.31 4.31 -16.19 4.31 -15.69 4.19 -15.56 4.19 -15.06 4.06 -14.94 4.06 -14.44 3.94 -14.31 3.94 -13.81 3.81 -13.69 3.81 -13.19 3.69 -13.06 3.69 -7.81 3.81 -7.69 3.81 -7.19 3.94 -7.06 3.94 -6.56 4.06 -6.44 4.06 -5.94 4.19 -5.81 4.19 -5.31 4.31 -5.19 4.31 -4.69 4.44 -4.56 4.44 -4.06 4.56 -3.94 4.94 -1.81 7.31 2.94 9.31 5.81 9.44 6.19 12.19 8.94 12.94 9.19 13.31 9.06 13.69 8.69 13.81 7.94 13.56 7.44 11.31 5.19 9.19 0.94 8.06 -2.31 7.56 -5.19 7.44 -5.31 7.44 -5.81 7.31 -5.94 7.31 -6.44 7.19 -6.56 7.19 -7.06 7.06 -7.19 7.06 -7.69 6.94 -7.81 6.94 -13.06 7.06 -13.19 7.06 -13.69 7.19 -13.81 7.94 -18.06 9.19 -21.81 11.19 -25.81 13.56 -28.31 13.81 -28.81 13.81 -29.31 13.44 -29.81 13.19 -29.94Z"/>
<path transform="translate(458.76 800.00) scale(1.0530 1)" fill="#000" fill-rule="evenodd" d="M1.44 -16.44 1.56 -15.69 2.31 -15.19 4.69 -15.19 4.81 -15.06 4.81 -1.06 4.69 -0.94 2.31 -0.94 1.94 -0.81 1.44 -0.19 1.44 0.31 1.94 0.94 2.31 1.06 10.56 1.06 10.94 0.94 11.44 0.44 11.44 -0.31 10.94 -0.81 10.56 -0.94 8.19 -0.94 8.06 -1.06 8.06 -12.31 9.94 -14.19 12.81 -15.19 15.06 -15.19 16.56 -14.44 16.94 -14.06 17.69 -12.44 17.69 -1.06 17.56 -0.94 15.19 -0.94 14.44 -0.56 14.19 0.06 14.31 0.19 14.31 0.56 14.81 0.94 15.19 1.06 23.44 1.06 23.81 0.94 24.19 0.56 24.31 -0.06 24.19 -0.44 23.81 -0.81 23.44 -0.94 21.06 -0.94 20.81 -1.19 20.81 -12.19 22.56 -14.06 25.69 -15.19 27.81 -15.19 29.31 -14.44 29.69 -14.06 30.44 -12.56 30.44 -1.06 30.31 -0.94 27.94 -0.94 27.56 -0.81 27.06 -0.31 27.06 0.31 27.56 0.94 27.94 1.06 36.19 1.06 36.56 0.94 37.06 0.44 37.06 -0.31 36.56 -0.81 36.19 -0.94 33.81 -0.94 33.69 -1.06 33.69 -12.81 33.56 -12.94 33.56 -13.31 32.44 -15.56 31.56 -16.19 27.94 -17.31 25.69 -17.31 21.81 -16.06 20.19 -14.56 19.94 -14.81 19.69 -15.44 19.19 -15.81 19.06 -16.06 15.19 -17.31 12.94 -17.31 12.81 -17.19 12.31 -17.19 9.31 -16.19 8.69 -15.81 8.19 -15.31 8.06 -15.44 7.94 -16.69 7.06 -17.31 2.44 -17.31 1.94 -17.06Z"/>
<path transform="translate(499.90 800.00) scale(0.9300 1)" fill="#000" fill-rule="evenodd" d="M6.56 -17.19 4.31 -16.06 2.81 -14.69 2.56 -13.94 2.56 -11.44 2.81 -10.81 4.31 -9.44 6.81 -8.19 7.06 -8.19 7.44 -7.94 7.69 -7.94 8.06 -7.69 8.31 -7.69 8.69 -7.44 12.06 -6.19 14.56 -4.94 15.31 -4.19 15.31 -2.69 14.44 -1.81 12.56 -0.94 8.44 -0.94 6.69 -1.81 5.44 -3.06 4.56 -4.94 4.06 -5.44 3.44 -5.56 3.06 -5.44 2.69 -5.06 2.56 -4.69 2.56 0.19 2.69 0.56 2.94 0.81 3.56 1.06 3.94 0.94 4.56 0.44 4.81 -0.19 5.19 -0.44 5.56 -0.06 7.56 0.94 8.06 0.94 8.19 1.06 12.94 1.06 13.06 0.94 13.44 0.94 15.69 -0.19 15.69 -0.31 17.06 -1.56 17.44 -2.31 17.44 -5.69 17.06 -6.56 16.06 -7.44 15.94 -7.69 13.31 -9.06 13.06 -9.06 12.69 -9.31 12.44 -9.31 12.06 -9.56 11.81 -9.56 11.44 -9.81 8.06 -11.06 5.44 -12.31 4.56 -13.19 4.56 -13.44 5.44 -14.31 7.19 -15.19 11.56 -15.19 13.31 -14.31 14.44 -13.19 15.44 -11.06 16.31 -10.56 16.44 -10.69 16.81 -10.69 17.44 -11.56 17.44 -16.19 17.19 -16.69 16.56 -17.19 16.19 -17.19 15.69 -16.94 14.94 -15.81 14.69 -15.81 14.19 -16.19 12.19 -17.19 12.06 -17.06 11.69 -17.31 7.06 -17.31 6.69 -17.06Z"/>
<path transform="translate(517.09 800.00)" fill="#000" fill-rule="evenodd" d="M3.19 -29.94 2.69 -29.44 2.56 -29.06 2.69 -28.56 5.06 -26.06 7.44 -21.31 8.56 -17.69 8.56 -17.19 8.69 -17.06 8.69 -16.56 8.81 -16.44 8.81 -15.94 8.94 -15.81 8.94 -15.31 9.06 -15.19 9.06 -14.69 9.19 -14.56 9.19 -14.06 9.44 -13.31 9.44 -12.56 9.56 -12.44 9.56 -8.31 9.44 -8.19 9.44 -7.56 9.31 -7.44 9.31 -6.94 9.19 -6.81 9.19 -6.31 9.06 -6.19 9.06 -5.69 8.94 -5.56 8.94 -5.06 8.81 -4.94 8.81 -4.44 8.69 -4.31 8.31 -2.19 7.19 1.06 5.19 5.06 2.81 7.44 2.56 8.19 2.69 8.69 3.06 9.06 3.69 9.19 4.31 8.94 7.06 6.06 7.19 5.69 9.06 3.06 11.44 -1.69 11.69 -2.56 11.69 -3.06 11.81 -3.19 11.81 -3.69 11.94 -3.81 11.94 -4.31 12.06 -4.44 12.06 -4.94 12.19 -5.06 12.19 -5.56 12.31 -5.69 12.31 -6.19 12.44 -6.31 12.44 -6.81 12.56 -6.94 12.56 -7.44 12.69 -7.56 12.69 -13.31 12.56 -13.44 12.56 -13.94 12.44 -14.06 12.44 -14.56 12.31 -14.69 12.31 -15.19 12.19 -15.31 12.19 -15.81 12.06 -15.94 11.56 -18.81 8.94 -24.06 6.69 -27.44 4.19 -29.81 3.94 -29.94Z"/>
<g transform="translate(23.30 465.00) rotate(-90)">
<path transform="translate(-1.30 0.00)" fill="#000" fill-rule="evenodd" d="M1.56 -24.94 1.44 -24.19 1.94 -23.56 2.44 -23.31 4.69 -23.31 4.81 -23.19 4.81 -1.06 4.69 -0.94 2.31 -0.94 1.94 -0.81 1.44 -0.19 1.56 0.56 1.94 0.94 2.31 1.06 16.81 1.06 17.19 0.81 20.06 -0.06 20.81 -0.56 21.81 -1.56 23.06 -4.06 23.06 -4.44 23.19 -4.56 23.19 -8.19 23.06 -8.31 23.06 -8.69 21.94 -10.94 20.56 -12.31 19.94 -12.69 20.06 -12.94 20.56 -13.19 21.69 -14.44 21.94 -14.56 23.06 -16.81 23.06 -17.19 23.19 -17.31 23.19 -19.81 23.06 -19.94 23.06 -20.31 21.94 -22.56 21.69 -22.69 21.81 -22.81 20.56 -23.94 19.94 -24.31 16.44 -25.44 2.44 -25.44ZM8.06 -11.56 8.19 -11.69 16.19 -11.69 17.94 -10.81 19.19 -9.56 19.94 -8.06 19.94 -4.69 19.06 -2.94 18.06 -1.94 16.06 -0.94 8.19 -0.94 8.06 -1.06ZM8.06 -23.19 8.19 -23.31 16.31 -23.31 18.19 -22.31 18.94 -21.56 19.94 -19.69 19.94 -17.44 18.94 -15.56 18.19 -14.81 16.31 -13.81 8.19 -13.81 8.06 -13.94Z"/>
<path transform="translate(24.99 10.15)" fill="#000" fill-rule="evenodd" d="M4.44 -13.31 3.94 -12.81 3.81 -12.44 3.81 -10.81 3.69 -10.69 2.56 -11.44 2.19 -11.44 2.06 -11.56 1.56 -11.56 0.94 -11.06 0.94 -10.19 1.56 -9.56 2.31 -9.19 2.69 -8.81 1.31 -7.94 0.94 -7.44 0.94 -6.69 1.44 -6.19 1.94 -6.06 2.06 -6.19 2.44 -6.19 3.69 -6.94 3.81 -6.81 3.81 -5.19 3.94 -4.81 4.31 -4.44 4.94 -4.31 5.31 -4.44 5.69 -4.81 5.81 -5.19 5.81 -6.81 5.94 -6.94 6.94 -6.31 7.69 -6.06 8.19 -6.19 8.69 -6.69 8.69 -7.44 8.31 -7.94 6.94 -8.81 7.31 -9.19 8.06 -9.56 8.69 -10.19 8.69 -11.06 8.06 -11.56 7.56 -11.56 7.44 -11.44 7.06 -11.44 5.94 -10.69 5.81 -10.81 5.81 -12.44 5.69 -12.81 5.19 -13.31Z"/>
<path transform="translate(53.75 0.00)" fill="#000" fill-rule="evenodd" d="M29.44 -25.31 28.81 -25.31 28.44 -25.06 25.19 -21.81 22.94 -20.69 22.44 -20.19 22.44 -19.31 22.94 -18.81 23.94 -18.81 25.94 -19.81 26.81 -20.56 26.94 -20.44 26.94 -1.06 26.81 -0.94 23.31 -0.94 22.94 -0.81 22.44 -0.31 22.44 0.44 22.94 0.94 23.31 1.06 33.94 1.06 34.69 0.56 34.69 0.19 34.81 0.06 34.69 -0.06 34.69 -0.44 33.94 -0.94 30.31 -0.94 30.19 -1.06 30.19 -24.44 30.06 -24.81ZM50.06 -25.44 46.31 -24.19 45.56 -23.56 43.56 -20.56 43.19 -19.69 43.19 -19.19 43.06 -19.06 43.06 -18.56 42.94 -18.44 42.94 -17.94 42.81 -17.81 42.81 -17.31 42.69 -17.19 42.69 -16.69 42.56 -16.56 42.56 -16.06 42.44 -15.94 42.44 -15.44 42.19 -14.69 42.19 -14.06 42.06 -13.94 42.06 -10.44 42.19 -10.31 42.19 -9.69 42.31 -9.56 42.31 -9.06 42.44 -8.94 42.44 -8.44 42.56 -8.31 42.56 -7.81 42.69 -7.69 42.69 -7.19 42.81 -7.06 42.81 -6.56 42.94 -6.44 42.94 -5.94 43.06 -5.81 43.06 -5.31 43.19 -5.19 43.19 -4.69 43.44 -3.94 45.44 -0.94 46.06 -0.31 46.69 0.06 49.69 1.06 52.81 1.06 56.19 -0.06 56.81 -0.56 58.94 -3.69 59.31 -4.44 59.81 -7.31 59.94 -7.44 59.94 -7.94 60.06 -8.06 60.06 -8.56 60.19 -8.69 60.19 -9.19 60.31 -9.31 60.31 -9.81 60.44 -9.94 60.44 -14.31 60.31 -14.44 60.31 -14.94 60.19 -15.06 60.19 -15.56 60.06 -15.69 59.31 -19.94 56.81 -23.81 56.06 -24.31 53.06 -25.31 52.56 -25.31 52.44 -25.44ZM50.19 -23.31 52.31 -23.31 54.06 -22.44 55.19 -21.31 56.19 -19.19 56.69 -16.31 56.81 -16.19 56.81 -15.69 56.94 -15.56 56.94 -15.06 57.06 -14.94 57.06 -14.44 57.19 -14.31 57.19 -10.06 57.06 -9.94 57.06 -9.44 56.94 -9.31 56.19 -5.06 55.06 -2.81 54.19 -1.94 52.19 -0.94 50.44 -0.94 48.56 -1.81 47.44 -2.94 46.56 -4.56 46.31 -5.31 46.31 -5.81 46.19 -5.94 46.19 -6.44 46.06 -6.56 46.06 -7.06 45.94 -7.19 45.94 -7.69 45.81 -7.81 45.81 -8.31 45.69 -8.44 45.69 -8.94 45.56 -9.06 45.56 -9.56 45.31 -10.31 45.31 -14.06 45.44 -14.19 45.44 -14.69 45.56 -14.81 45.56 -15.31 45.69 -15.44 45.69 -15.94 45.81 -16.06 45.81 -16.56 45.94 -16.69 45.94 -17.19 46.06 -17.31 46.44 -19.44 47.44 -21.44 48.44 -22.44ZM12.44 -29.94 9.56 -27.19 7.31 -23.81 4.94 -19.06 4.56 -16.94 4.44 -16.81 4.44 -16.31 4.31 -16.19 4.31 -15.69 4.19 -15.56 4.19 -15.06 4.06 -14.94 4.06 -14.44 3.94 -14.31 3.94 -13.81 3.81 -13.69 3.81 -13.19 3.69 -13.06 3.69 -7.81 3.81 -7.69 3.81 -7.19 3.94 -7.06 3.94 -6.56 4.06 -6.44 4.06 -5.94 4.19 -5.81 4.19 -5.31 4.31 -5.19 4.31 -4.69 4.44 -4.56 4.44 -4.06 4.56 -3.94 4.94 -1.81 7.31 2.94 9.31 5.81 9.44 6.19 12.19 8.94 12.94 9.19 13.31 9.06 13.69 8.69 13.81 7.94 13.56 7.44 11.31 5.19 9.19 0.94 8.06 -2.31 7.56 -5.19 7.44 -5.31 7.44 -5.81 7.31 -5.94 7.31 -6.44 7.19 -6.56 7.19 -7.06 7.06 -7.19 7.06 -7.69 6.94 -7.81 6.94 -13.06 7.06 -13.19 7.06 -13.69 7.19 -13.81 7.94 -18.06 9.19 -21.81 11.19 -25.81 13.56 -28.31 13.81 -28.81 13.81 -29.31 13.44 -29.81 13.19 -29.94Z"/>
<path transform="translate(116.69 -12.11)" fill="#000" fill-rule="evenodd" d="M7.94 -15.56 7.56 -15.56 7.06 -15.31 5.31 -13.56 3.94 -12.81 3.31 -12.06 3.44 -11.31 3.81 -10.94 4.19 -10.81 4.81 -10.94 5.69 -11.44 6.06 -11.31 6.06 -1.06 5.94 -0.94 4.19 -0.94 3.81 -0.81 3.44 -0.44 3.31 0.31 3.81 0.94 4.19 1.06 10.56 1.06 10.94 0.94 11.44 0.44 11.44 -0.31 10.94 -0.81 10.56 -0.94 8.94 -0.94 8.81 -1.06 8.81 -14.56 8.56 -15.06ZM17.56 -15.69 17.19 -15.56 16.44 -14.69 16.44 -14.19 16.31 -14.06 16.31 -13.56 16.19 -13.44 16.19 -12.94 16.06 -12.81 16.06 -12.31 15.94 -12.19 15.94 -11.69 15.81 -11.56 15.81 -11.06 15.69 -10.94 15.69 -10.44 15.56 -10.31 15.56 -9.81 15.44 -9.69 15.44 -9.19 15.19 -8.44 15.19 -7.19 15.81 -6.69 16.44 -6.69 16.94 -6.94 18.19 -8.19 19.69 -8.69 21.56 -8.69 22.31 -8.31 23.69 -6.94 24.19 -5.44 24.19 -4.19 23.69 -2.69 22.44 -1.44 21.44 -0.94 19.81 -0.94 18.19 -1.44 17.69 -1.94 17.69 -2.19 18.31 -2.69 18.19 -2.81 18.44 -3.06 18.44 -3.81 18.31 -4.19 17.06 -5.06 16.56 -5.06 16.06 -4.81 15.44 -4.19 15.06 -3.44 15.19 -2.19 16.06 -0.56 17.69 0.56 19.19 1.06 19.44 0.94 19.56 1.06 22.19 1.06 22.56 0.81 23.94 0.44 24.56 0.06 26.19 -1.69 26.94 -4.06 26.94 -5.56 26.81 -5.69 26.81 -6.19 26.31 -7.69 25.94 -8.31 24.06 -10.06 22.19 -10.69 19.19 -10.69 17.81 -10.19 17.69 -10.44 17.81 -10.56 18.06 -12.31 18.44 -12.94 21.69 -12.94 21.81 -13.06 24.69 -13.56 25.44 -14.19 25.44 -15.06 25.06 -15.44 24.44 -15.69Z"/>
<path transform="translate(164.09 0.00)" fill="#000" fill-rule="evenodd" d="M7.44 -23.94 4.94 -21.31 3.69 -18.81 2.56 -15.44 2.56 -9.19 2.69 -9.06 2.56 -8.81 3.81 -5.19 4.94 -2.94 7.94 -0.06 11.31 1.06 14.06 1.06 14.19 0.94 14.44 1.06 17.44 0.06 18.31 -0.44 18.69 -0.81 18.81 -0.69 18.94 0.44 19.44 0.94 19.81 1.06 20.44 0.81 20.94 1.06 21.44 0.94 21.94 0.44 22.06 0.06 22.06 -8.06 22.19 -8.19 24.56 -8.19 25.19 -8.56 25.44 -8.94 25.44 -9.56 25.19 -9.94 24.44 -10.31 16.31 -10.31 15.81 -10.06 15.44 -9.69 15.44 -8.81 15.81 -8.44 16.31 -8.19 18.69 -8.19 18.81 -8.06 18.81 -3.81 17.06 -2.06 16.56 -1.81 13.94 -0.94 11.94 -0.94 9.81 -2.06 7.94 -3.94 6.69 -6.44 5.69 -9.56 5.69 -14.69 6.81 -18.19 7.81 -20.19 10.06 -22.44 11.81 -23.31 14.06 -23.31 16.94 -22.31 19.06 -20.19 20.06 -17.06 20.81 -16.44 21.44 -16.56 21.81 -16.81 22.06 -17.44 22.06 -24.44 21.94 -24.81 21.31 -25.31 20.69 -25.31 20.19 -24.94 19.94 -24.56 19.56 -23.19 19.31 -22.94 18.31 -23.94 18.06 -23.94 17.56 -24.31 14.06 -25.44 11.69 -25.44 11.56 -25.31 11.06 -25.31 10.69 -25.06 8.19 -24.31 7.69 -23.94ZM29.94 -29.94 29.44 -29.44 29.31 -29.06 29.44 -28.94 29.44 -28.56 32.06 -25.69 34.19 -21.31 35.19 -18.31 35.19 -17.81 35.31 -17.69 35.31 -17.19 35.44 -17.06 35.44 -16.56 35.56 -16.44 35.56 -15.94 35.69 -15.81 35.69 -15.31 35.81 -15.19 35.81 -14.69 35.94 -14.56 35.94 -14.06 36.06 -13.94 36.06 -13.44 36.31 -12.69 36.31 -8.06 36.19 -7.94 36.19 -7.44 36.06 -7.31 36.06 -6.81 35.94 -6.69 35.94 -6.19 35.81 -6.06 35.81 -5.56 35.69 -5.44 35.19 -2.56 34.06 0.81 31.69 5.44 29.56 7.44 29.31 8.19 29.44 8.31 29.44 8.69 29.69 8.94 30.44 9.19 31.06 8.94 33.56 6.44 35.81 3.06 38.19 -1.69 38.44 -2.44 38.44 -2.94 38.56 -3.06 39.31 -7.31 39.44 -7.44 39.44 -8.06 39.56 -8.19 39.44 -8.31 39.44 -13.44 39.31 -13.56 39.31 -14.06 39.19 -14.19 39.19 -14.69 39.06 -14.81 39.06 -15.31 38.94 -15.44 38.94 -15.94 38.81 -16.06 38.81 -16.56 38.69 -16.69 38.69 -17.19 38.56 -17.31 38.56 -17.81 38.44 -17.94 38.44 -18.44 38.19 -19.19 35.94 -23.69 33.44 -27.44 31.31 -29.56 30.69 -29.94Z"/>
</g>
</svg></body></html>
